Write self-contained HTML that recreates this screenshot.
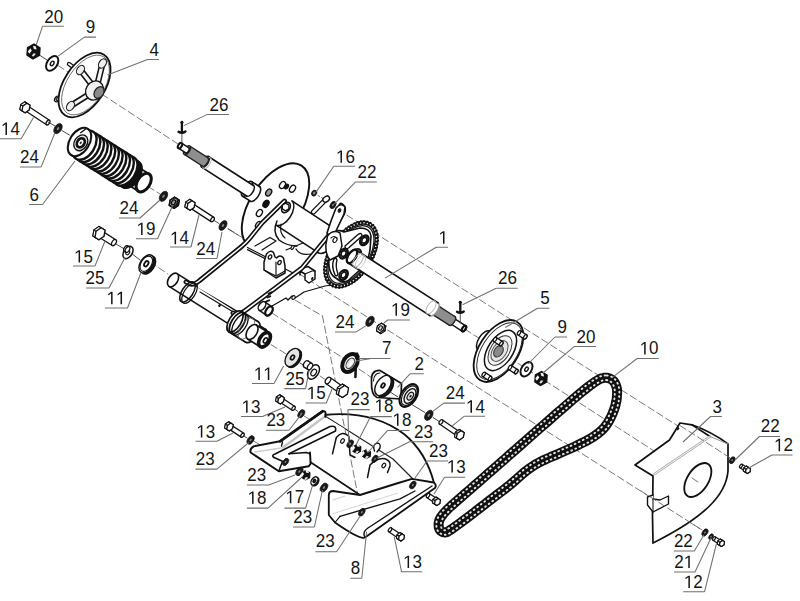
<!DOCTYPE html>
<html><head><meta charset="utf-8"><style>
html,body{margin:0;padding:0;background:#fff;}
svg{display:block;}
text{font-family:"Liberation Sans",sans-serif;font-size:18px;fill:#141414;}
</style></head><body>
<svg width="800" height="601" viewBox="0 0 800 601">
<rect width="800" height="601" fill="#fff"/>
<path d="M58.0 65.5L178.0 144.0" stroke="#6a6a6a" stroke-width="0.90" fill="none" stroke-linecap="round" stroke-dasharray="7 3.5"/>
<path d="M148.0 186.5L160.0 194.0" stroke="#6a6a6a" stroke-width="0.90" fill="none" stroke-linecap="round" stroke-dasharray="7 3.5"/>
<path d="M465.0 329.2L690.0 474.1" stroke="#6a6a6a" stroke-width="0.90" fill="none" stroke-linecap="round" stroke-dasharray="7 3.5"/>
<path d="M338.0 209.5L733.0 461.0" stroke="#6a6a6a" stroke-width="0.90" fill="none" stroke-linecap="round" stroke-dasharray="7 3.5"/>
<path d="M228.0 228.5L702.0 530.0" stroke="#6a6a6a" stroke-width="0.90" fill="none" stroke-linecap="round" stroke-dasharray="7 3.5"/>
<path d="M150.0 262.0L168.0 274.0" stroke="#6a6a6a" stroke-width="0.90" fill="none" stroke-linecap="round" stroke-dasharray="7 3.5"/>
<path d="M271.0 344.6L287.0 354.5" stroke="#6a6a6a" stroke-width="0.90" fill="none" stroke-linecap="round" stroke-dasharray="7 3.5"/>
<path d="M272.0 313.0L344.0 358.5" stroke="#6a6a6a" stroke-width="0.90" fill="none" stroke-linecap="round" stroke-dasharray="7 3.5"/>
<path d="M39.4 55.0L46.9 60.0" stroke="#333" stroke-width="0.90" fill="none" stroke-linecap="round"/>
<path d="M39.2 55.2L33.0 58.6L27.2 54.9L27.8 47.8L34.0 44.4L39.8 48.1Z" stroke="#111" stroke-width="1.84" fill="#111" stroke-linejoin="round" stroke-linecap="round"/>
<path d="M33.0 45.8L35.6 46.3L36.7 49.4L33.9 49.1Z" stroke="none" stroke-width="0.00" fill="#f2f2f2" stroke-linejoin="round" stroke-linecap="round"/>
<path d="M30.3 48.2L31.8 50.4L29.4 53.8L27.8 51.4Z" stroke="none" stroke-width="0.00" fill="#f5f5f5" stroke-linejoin="round" stroke-linecap="round"/>
<path d="M33.5 53.3L35.9 53.7L33.7 56.4L31.7 56.1Z" stroke="none" stroke-width="0.00" fill="#e0e0e0" stroke-linejoin="round" stroke-linecap="round"/>
<ellipse cx="52.2" cy="63.4" rx="5.1" ry="8.2" transform="rotate(32.8 52.2 63.4)" stroke="#111" stroke-width="1.95" fill="#fff"/>
<ellipse cx="52.2" cy="63.4" rx="1.6" ry="2.4" transform="rotate(32.8 52.2 63.4)" stroke="#111" stroke-width="1.38" fill="#fff"/>
<ellipse cx="57.0" cy="99.0" rx="2.2" ry="3.0" transform="rotate(32.8 57.0 99.0)" stroke="#111" stroke-width="1.26" fill="#fff"/>
<path d="M57.5 99.0L63.0 103.0" stroke="#111" stroke-width="4.02" fill="none" stroke-linecap="round"/>
<path d="M57.5 99.0L63.0 103.0" stroke="#fff" stroke-width="1.60" fill="none" stroke-linecap="round"/>
<path d="M69.0 64.0L76.0 69.0" stroke="#111" stroke-width="4.37" fill="none" stroke-linecap="round"/>
<path d="M69.0 64.0L76.0 69.0" stroke="#fff" stroke-width="2.00" fill="none" stroke-linecap="round"/>
<ellipse cx="84.5" cy="85.0" rx="20.5" ry="36.0" transform="rotate(32.8 84.5 85.0)" stroke="#111" stroke-width="1.84" fill="#fff"/>
<ellipse cx="85.5" cy="85.0" rx="18.5" ry="33.5" transform="rotate(32.8 85.5 85.0)" stroke="#444" stroke-width="0.70" fill="none"/>
<path d="M96.0 90.0L80.5 70.0" stroke="#111" stroke-width="6.32" fill="none" stroke-linecap="round"/>
<path d="M96.0 90.0L80.5 70.0" stroke="#f4f4f4" stroke-width="3.20" fill="none" stroke-linecap="round"/>
<ellipse cx="80.5" cy="70.0" rx="3.5" ry="5.0" transform="rotate(32.8 80.5 70.0)" stroke="#222" stroke-width="1.15" fill="#eee"/>
<path d="M96.0 90.0L102.5 63.5" stroke="#111" stroke-width="6.32" fill="none" stroke-linecap="round"/>
<path d="M96.0 90.0L102.5 63.5" stroke="#f4f4f4" stroke-width="3.20" fill="none" stroke-linecap="round"/>
<ellipse cx="102.5" cy="63.5" rx="3.5" ry="5.0" transform="rotate(32.8 102.5 63.5)" stroke="#222" stroke-width="1.15" fill="#eee"/>
<path d="M96.0 90.0L70.5 106.0" stroke="#111" stroke-width="6.32" fill="none" stroke-linecap="round"/>
<path d="M96.0 90.0L70.5 106.0" stroke="#f4f4f4" stroke-width="3.20" fill="none" stroke-linecap="round"/>
<ellipse cx="70.5" cy="106.0" rx="3.5" ry="5.0" transform="rotate(32.8 70.5 106.0)" stroke="#222" stroke-width="1.15" fill="#eee"/>
<ellipse cx="94.5" cy="90.5" rx="8.5" ry="10.0" transform="rotate(32.8 94.5 90.5)" stroke="#111" stroke-width="1.38" fill="#f2f2f2"/>
<ellipse cx="99.0" cy="92.5" rx="4.5" ry="6.2" transform="rotate(32.8 99.0 92.5)" stroke="#222" stroke-width="1.26" fill="#8a8a8a"/>
<ellipse cx="26.0" cy="108.0" rx="1.6" ry="2.7" transform="rotate(-146.6 26.0 108.0)" stroke="#111" stroke-width="1.26" fill="#fff"/>
<path d="M49.5 120.2L27.5 105.7L24.5 110.3L46.5 124.8Z" fill="#fff" stroke="none"/>
<path d="M49.5 120.2L27.5 105.7" stroke="#111" stroke-width="1.26" fill="none" stroke-linecap="round"/>
<path d="M46.5 124.8L24.5 110.3" stroke="#111" stroke-width="1.26" fill="none" stroke-linecap="round"/>
<ellipse cx="48.0" cy="122.5" rx="1.6" ry="2.7" transform="rotate(-146.6 48.0 122.5)" stroke="#111" stroke-width="1.26" fill="#fff"/>
<path d="M27.0 108.7L23.0 111.4L19.9 109.4L20.8 104.6L24.8 101.8L27.9 103.9Z" stroke="#111" stroke-width="1.26" fill="#fff" stroke-linejoin="round" stroke-linecap="round"/>
<path d="M29.1 110.0L25.1 112.8L23.0 111.4L27.0 108.7Z" stroke="#111" stroke-width="1.01" fill="#fff" stroke-linejoin="round" stroke-linecap="round"/>
<path d="M25.1 112.8L22.0 110.8L19.9 109.4L23.0 111.4Z" stroke="#111" stroke-width="1.01" fill="#fff" stroke-linejoin="round" stroke-linecap="round"/>
<path d="M22.0 110.8L22.9 106.0L20.8 104.6L19.9 109.4Z" stroke="#111" stroke-width="1.01" fill="#fff" stroke-linejoin="round" stroke-linecap="round"/>
<path d="M22.9 106.0L26.9 103.2L24.8 101.8L20.8 104.6Z" stroke="#111" stroke-width="1.01" fill="#fff" stroke-linejoin="round" stroke-linecap="round"/>
<path d="M26.9 103.2L30.0 105.2L27.9 103.9L24.8 101.8Z" stroke="#111" stroke-width="1.01" fill="#fff" stroke-linejoin="round" stroke-linecap="round"/>
<path d="M30.0 105.2L29.1 110.0L27.0 108.7L27.9 103.9Z" stroke="#111" stroke-width="1.01" fill="#fff" stroke-linejoin="round" stroke-linecap="round"/>
<path d="M29.1 110.0L25.1 112.8L22.0 110.8L22.9 106.0L26.9 103.2L30.0 105.2Z" stroke="#111" stroke-width="1.26" fill="#fff" stroke-linejoin="round" stroke-linecap="round"/>
<path d="M48.0 122.0L55.0 126.0" stroke="#333" stroke-width="0.90" fill="none" stroke-linecap="round"/>
<ellipse cx="58.0" cy="128.6" rx="3.5" ry="5.6" transform="rotate(32.8 58.0 128.6)" stroke="#111" stroke-width="0.69" fill="#1a1a1a"/>
<ellipse cx="58.0" cy="128.6" rx="1.0" ry="1.7" transform="rotate(32.8 58.0 128.6)" stroke="#111" stroke-width="0.00" fill="#8a8a8a"/>
<path d="M62.0 130.6L69.4 135.0" stroke="#333" stroke-width="0.90" fill="none" stroke-linecap="round"/>
<ellipse cx="143.7" cy="182.6" rx="6.3" ry="10.2" transform="rotate(32.3 143.7 182.6)" stroke="#111" stroke-width="1.61" fill="#fff"/>
<path d="M125.6 183.2L138.3 191.2L149.2 174.0L136.5 166.0Z" fill="#fff" stroke="none"/>
<path d="M125.6 183.2L138.3 191.2" stroke="#111" stroke-width="1.61" fill="none" stroke-linecap="round"/>
<path d="M136.5 166.0L149.2 174.0" stroke="#111" stroke-width="1.61" fill="none" stroke-linecap="round"/>
<ellipse cx="131.1" cy="174.6" rx="6.3" ry="10.2" transform="rotate(32.3 131.1 174.6)" stroke="#111" stroke-width="1.61" fill="#fff"/>
<ellipse cx="143.7" cy="182.6" rx="6.3" ry="10.2" transform="rotate(32.3 143.7 182.6)" stroke="#111" stroke-width="2.99" fill="none"/>
<ellipse cx="130.6" cy="174.3" rx="9.2" ry="14.8" transform="rotate(32.3 130.6 174.3)" stroke="#111" stroke-width="2.53" fill="#fff"/>
<ellipse cx="129.0" cy="173.3" rx="9.2" ry="14.8" transform="rotate(32.3 129.0 173.3)" stroke="#111" stroke-width="2.53" fill="#fff"/>
<ellipse cx="127.4" cy="172.3" rx="9.2" ry="14.8" transform="rotate(32.3 127.4 172.3)" stroke="#111" stroke-width="2.53" fill="#fff"/>
<ellipse cx="125.8" cy="171.3" rx="9.2" ry="14.8" transform="rotate(32.3 125.8 171.3)" stroke="#111" stroke-width="2.53" fill="#fff"/>
<path d="M123.1 186.3 A9.2 14.8 32.3 0 0 138.2 162.3" stroke="#111" stroke-width="3" fill="none"/>
<ellipse cx="125.5" cy="171.1" rx="10.0" ry="16.0" transform="rotate(32.3 125.5 171.1)" stroke="#111" stroke-width="2.42" fill="#fff"/>
<ellipse cx="121.8" cy="168.7" rx="10.0" ry="16.0" transform="rotate(32.3 121.8 168.7)" stroke="#111" stroke-width="2.42" fill="#fff"/>
<ellipse cx="118.0" cy="166.4" rx="10.0" ry="16.0" transform="rotate(32.3 118.0 166.4)" stroke="#111" stroke-width="2.42" fill="#fff"/>
<ellipse cx="114.3" cy="164.0" rx="10.0" ry="16.0" transform="rotate(32.3 114.3 164.0)" stroke="#111" stroke-width="2.42" fill="#fff"/>
<ellipse cx="110.6" cy="161.7" rx="10.0" ry="16.0" transform="rotate(32.3 110.6 161.7)" stroke="#111" stroke-width="2.42" fill="#fff"/>
<ellipse cx="106.9" cy="159.3" rx="10.0" ry="16.0" transform="rotate(32.3 106.9 159.3)" stroke="#111" stroke-width="2.42" fill="#fff"/>
<ellipse cx="103.2" cy="157.0" rx="10.0" ry="16.0" transform="rotate(32.3 103.2 157.0)" stroke="#111" stroke-width="2.42" fill="#fff"/>
<ellipse cx="99.4" cy="154.6" rx="10.0" ry="16.0" transform="rotate(32.3 99.4 154.6)" stroke="#111" stroke-width="2.42" fill="#fff"/>
<ellipse cx="95.7" cy="152.3" rx="10.0" ry="16.0" transform="rotate(32.3 95.7 152.3)" stroke="#111" stroke-width="2.42" fill="#fff"/>
<ellipse cx="92.0" cy="149.9" rx="10.0" ry="16.0" transform="rotate(32.3 92.0 149.9)" stroke="#111" stroke-width="2.42" fill="#fff"/>
<ellipse cx="88.3" cy="147.6" rx="10.0" ry="16.0" transform="rotate(32.3 88.3 147.6)" stroke="#111" stroke-width="2.42" fill="#fff"/>
<ellipse cx="84.6" cy="145.2" rx="10.0" ry="16.0" transform="rotate(32.3 84.6 145.2)" stroke="#111" stroke-width="2.42" fill="#fff"/>
<ellipse cx="79.5" cy="142.0" rx="9.8" ry="15.6" transform="rotate(32.3 79.5 142.0)" stroke="#111" stroke-width="2.07" fill="#fff"/>
<ellipse cx="80.8" cy="142.8" rx="6.4" ry="8.4" transform="rotate(32.3 80.8 142.8)" stroke="#111" stroke-width="1.38" fill="#e6e6e6"/>
<ellipse cx="80.8" cy="142.8" rx="3.6" ry="4.8" transform="rotate(32.3 80.8 142.8)" stroke="#111" stroke-width="2.76" fill="#fff"/>
<ellipse cx="80.8" cy="142.8" rx="1.0" ry="1.4" transform="rotate(32.3 80.8 142.8)" stroke="#111" stroke-width="0.00" fill="#333"/>
<path d="M87.7 129.0L91.1 131.1" stroke="#111" stroke-width="1.61" fill="none" stroke-linecap="round"/>
<path d="M71.3 155.0L74.7 157.2" stroke="#111" stroke-width="1.61" fill="none" stroke-linecap="round"/>
<path d="M86.2 128.5L80.7 132.7" stroke="#111" stroke-width="1.38" fill="none" stroke-linecap="round"/>
<ellipse cx="163.5" cy="196.3" rx="3.5" ry="5.6" transform="rotate(32.8 163.5 196.3)" stroke="#111" stroke-width="0.69" fill="#1a1a1a"/>
<ellipse cx="163.5" cy="196.3" rx="1.0" ry="1.7" transform="rotate(32.8 163.5 196.3)" stroke="#111" stroke-width="0.00" fill="#8a8a8a"/>
<path d="M178.3 205.4L174.1 208.3L170.8 206.2L171.7 201.2L175.9 198.3L179.2 200.4Z" stroke="#111" stroke-width="1.61" fill="#888" stroke-linejoin="round" stroke-linecap="round"/>
<path d="M176.8 204.4L172.6 207.3L174.1 208.3L178.3 205.4Z" stroke="#111" stroke-width="1.29" fill="#888" stroke-linejoin="round" stroke-linecap="round"/>
<path d="M172.6 207.3L169.3 205.2L170.8 206.2L174.1 208.3Z" stroke="#111" stroke-width="1.29" fill="#888" stroke-linejoin="round" stroke-linecap="round"/>
<path d="M169.3 205.2L170.2 200.2L171.7 201.2L170.8 206.2Z" stroke="#111" stroke-width="1.29" fill="#888" stroke-linejoin="round" stroke-linecap="round"/>
<path d="M170.2 200.2L174.4 197.3L175.9 198.3L171.7 201.2Z" stroke="#111" stroke-width="1.29" fill="#888" stroke-linejoin="round" stroke-linecap="round"/>
<path d="M174.4 197.3L177.7 199.4L179.2 200.4L175.9 198.3Z" stroke="#111" stroke-width="1.29" fill="#888" stroke-linejoin="round" stroke-linecap="round"/>
<path d="M177.7 199.4L176.8 204.4L178.3 205.4L179.2 200.4Z" stroke="#111" stroke-width="1.29" fill="#888" stroke-linejoin="round" stroke-linecap="round"/>
<path d="M176.8 204.4L172.6 207.3L169.3 205.2L170.2 200.2L174.4 197.3L177.7 199.4Z" stroke="#111" stroke-width="1.61" fill="#d8d8d8" stroke-linejoin="round" stroke-linecap="round"/>
<ellipse cx="173.5" cy="202.3" rx="1.9" ry="2.7" transform="rotate(32.8 173.5 202.3)" stroke="#111" stroke-width="1.45" fill="#999"/>
<ellipse cx="275.5" cy="206.0" rx="25.5" ry="48.0" transform="rotate(32.8 275.5 206.0)" stroke="#111" stroke-width="1.95" fill="#fff"/>
<ellipse cx="268.7" cy="192.5" rx="2.6" ry="3.8" transform="rotate(32.8 268.7 192.5)" stroke="#111" stroke-width="1.38" fill="#999"/>
<ellipse cx="266.0" cy="203.8" rx="2.6" ry="3.8" transform="rotate(32.8 266.0 203.8)" stroke="#111" stroke-width="1.38" fill="#111"/>
<ellipse cx="259.4" cy="213.0" rx="2.6" ry="3.8" transform="rotate(32.8 259.4 213.0)" stroke="#111" stroke-width="1.38" fill="#fff"/>
<ellipse cx="258.5" cy="225.0" rx="2.6" ry="3.8" transform="rotate(32.8 258.5 225.0)" stroke="#111" stroke-width="1.38" fill="#fff"/>
<ellipse cx="282.5" cy="185.0" rx="2.6" ry="3.8" transform="rotate(32.8 282.5 185.0)" stroke="#111" stroke-width="1.38" fill="#fff"/>
<ellipse cx="292.5" cy="188.7" rx="2.6" ry="3.8" transform="rotate(32.8 292.5 188.7)" stroke="#111" stroke-width="1.38" fill="#fff"/>
<ellipse cx="286.5" cy="186.5" rx="1.8" ry="2.6" transform="rotate(32.8 286.5 186.5)" stroke="#111" stroke-width="1.15" fill="#111"/>
<ellipse cx="262.0" cy="336.0" rx="4.6" ry="7.6" transform="rotate(32.2 262.0 336.0)" stroke="#111" stroke-width="1.61" fill="#fff"/>
<path d="M169.0 286.4L258.0 342.4L266.0 329.6L177.0 273.6Z" fill="#fff" stroke="none"/>
<path d="M169.0 286.4L258.0 342.4" stroke="#111" stroke-width="1.61" fill="none" stroke-linecap="round"/>
<path d="M177.0 273.6L266.0 329.6" stroke="#111" stroke-width="1.61" fill="none" stroke-linecap="round"/>
<ellipse cx="173.0" cy="280.0" rx="4.6" ry="7.6" transform="rotate(32.2 173.0 280.0)" stroke="#111" stroke-width="1.61" fill="#fff"/>
<path d="M197.0 287.0L241.0 249.0L262.0 225.0L288.0 200.0L330.0 236.0L300.0 270.0L240.0 312.0Z" stroke="none" stroke-width="0.00" fill="#fff" stroke-linejoin="round" stroke-linecap="round"/>
<path d="M247.5 247.5L265.0 256.5" stroke="#111" stroke-width="1.26" fill="none" stroke-linecap="round"/>
<path d="M247.5 249.6L296.0 274.5" stroke="#111" stroke-width="1.26" fill="none" stroke-linecap="round"/>
<path d="M228.0 229.0L238.0 235.0" stroke="#555" stroke-width="0.90" fill="none" stroke-linecap="round"/>
<path d="M255 246L270 237.5L276 241L262 250" stroke="#111" stroke-width="1.26" fill="#fff" stroke-linejoin="round" stroke-linecap="round" />
<path d="M200.0 292.0L240.0 316.0" stroke="#111" stroke-width="1.15" fill="none" stroke-linecap="round"/>
<ellipse cx="326.0" cy="240.5" rx="8.0" ry="14.5" transform="rotate(33.2 326.0 240.5)" stroke="#111" stroke-width="1.61" fill="#fff"/>
<path d="M276.1 225.1L318.1 252.6L333.9 228.4L291.9 200.9Z" fill="#fff" stroke="none"/>
<path d="M276.1 225.1L318.1 252.6" stroke="#111" stroke-width="1.61" fill="none" stroke-linecap="round"/>
<path d="M291.9 200.9L333.9 228.4" stroke="#111" stroke-width="1.61" fill="none" stroke-linecap="round"/>
<path d="M291.9 200.9A8.0 14.5 33.2 0 1 276.1 225.1" fill="#fff" stroke="#111" stroke-width="1.4"/>
<path d="M264 270L264 262L266.5 254Q270 249.5 273.5 252.5L275 257L276.5 258Q280 254 283.5 258L285 266L285 273L276 278L264 270Z" stroke="#111" stroke-width="1.49" fill="#fff" stroke-linejoin="round" stroke-linecap="round" />
<path d="M264 270L276 276L276 262" stroke="#111" stroke-width="1.15" fill="none" stroke-linejoin="round" stroke-linecap="round" />
<path d="M276 276L285 271" stroke="#111" stroke-width="1.15" fill="none" stroke-linejoin="round" stroke-linecap="round" />
<ellipse cx="270.0" cy="257.0" rx="1.5" ry="2.2" transform="rotate(32.8 270.0 257.0)" stroke="#111" stroke-width="1.26" fill="#fff"/>
<ellipse cx="279.5" cy="262.5" rx="1.5" ry="2.2" transform="rotate(32.8 279.5 262.5)" stroke="#111" stroke-width="1.26" fill="#fff"/>
<path d="M300 275L300 269L308 266.5L315 271L315 279L309 283L305 280L305 274L300 271" stroke="#111" stroke-width="1.49" fill="#fff" stroke-linejoin="round" stroke-linecap="round" />
<path d="M305 274L312 271L315 271" stroke="#111" stroke-width="1.15" fill="none" stroke-linejoin="round" stroke-linecap="round" />
<ellipse cx="312.3" cy="278.5" rx="1.1" ry="1.6" transform="rotate(32.8 312.3 278.5)" stroke="#111" stroke-width="0.00" fill="#111"/>
<path d="M277 221Q272 232 279 240Q287 246 297 246" stroke="#111" stroke-width="1.49" fill="none" stroke-linejoin="round" stroke-linecap="round" />
<path d="M281 224Q279 233 285 238" stroke="#111" stroke-width="1.15" fill="none" stroke-linejoin="round" stroke-linecap="round" />
<path d="M296 249Q300 256 311 254" stroke="#111" stroke-width="1.26" fill="none" stroke-linejoin="round" stroke-linecap="round" />
<path d="M286 250L303 243" stroke="#111" stroke-width="1.15" fill="none" stroke-linejoin="round" stroke-linecap="round" />
<ellipse cx="292.5" cy="247.5" rx="1.2" ry="2.2" transform="rotate(32.8 292.5 247.5)" stroke="#111" stroke-width="1.15" fill="#fff"/>
<path d="M284.5 201L262 223L250 238Q246 243 241 247L199 281Q192 287 186 282" stroke="#111" stroke-width="4.83" fill="none" stroke-linejoin="round" stroke-linecap="round" />
<path d="M284.5 201L262 223L250 238Q246 243 241 247L199 281Q192 287 186 282" stroke="#fff" stroke-width="1.60" fill="none" stroke-linejoin="round" stroke-linecap="round" />
<ellipse cx="187.5" cy="292.0" rx="5.5" ry="11.5" transform="rotate(32.8 187.5 292.0)" stroke="#111" stroke-width="1.49" fill="none"/>
<ellipse cx="189.5" cy="293.2" rx="5.5" ry="11.5" transform="rotate(32.8 189.5 293.2)" stroke="#111" stroke-width="1.26" fill="none"/>
<path d="M341 205Q345 208 343 213L334 229L302 268L246 310Q238 316 233 313" stroke="#111" stroke-width="4.83" fill="none" stroke-linejoin="round" stroke-linecap="round" />
<path d="M341 205Q345 208 343 213L334 229L302 268L246 310Q238 316 233 313" stroke="#fff" stroke-width="1.60" fill="none" stroke-linejoin="round" stroke-linecap="round" />
<ellipse cx="252.0" cy="332.0" rx="6.0" ry="12.0" transform="rotate(31.7 252.0 332.0)" stroke="#111" stroke-width="1.72" fill="#fff"/>
<path d="M228.7 331.7L245.7 342.2L258.3 321.8L241.3 311.3Z" fill="#fff" stroke="none"/>
<path d="M228.7 331.7L245.7 342.2" stroke="#111" stroke-width="1.72" fill="none" stroke-linecap="round"/>
<path d="M241.3 311.3L258.3 321.8" stroke="#111" stroke-width="1.72" fill="none" stroke-linecap="round"/>
<ellipse cx="235.0" cy="321.5" rx="6.0" ry="12.0" transform="rotate(31.7 235.0 321.5)" stroke="#111" stroke-width="1.72" fill="#fff"/>
<ellipse cx="237.5" cy="323.0" rx="6.0" ry="12.0" transform="rotate(32.8 237.5 323.0)" stroke="#111" stroke-width="1.84" fill="none"/>
<ellipse cx="240.0" cy="324.6" rx="6.0" ry="12.0" transform="rotate(32.8 240.0 324.6)" stroke="#111" stroke-width="1.38" fill="none"/>
<ellipse cx="246.5" cy="328.6" rx="6.0" ry="12.0" transform="rotate(32.8 246.5 328.6)" stroke="#666" stroke-width="0.80" fill="none"/>
<ellipse cx="264.5" cy="339.8" rx="4.9" ry="8.2" transform="rotate(32.0 264.5 339.8)" stroke="#111" stroke-width="1.61" fill="#fff"/>
<path d="M247.7 339.0L260.2 346.8L268.8 332.8L256.3 325.0Z" fill="#fff" stroke="none"/>
<path d="M247.7 339.0L260.2 346.8" stroke="#111" stroke-width="1.61" fill="none" stroke-linecap="round"/>
<path d="M256.3 325.0L268.8 332.8" stroke="#111" stroke-width="1.61" fill="none" stroke-linecap="round"/>
<ellipse cx="252.0" cy="332.0" rx="4.9" ry="8.2" transform="rotate(32.0 252.0 332.0)" stroke="#111" stroke-width="1.61" fill="#fff"/>
<ellipse cx="264.5" cy="339.8" rx="4.8" ry="8.0" transform="rotate(32.8 264.5 339.8)" stroke="#111" stroke-width="3.68" fill="#fff"/>
<ellipse cx="265.5" cy="340.5" rx="1.8" ry="2.8" transform="rotate(32.8 265.5 340.5)" stroke="#111" stroke-width="1.61" fill="#fff"/>
<path d="M268.5 293.5L271.5 292.3" stroke="#111" stroke-width="1.84" fill="none" stroke-linecap="round"/>
<path d="M267.3 297.5L270.3 296.3" stroke="#111" stroke-width="1.84" fill="none" stroke-linecap="round"/>
<path d="M266.1 301.5L269.1 300.3" stroke="#111" stroke-width="1.84" fill="none" stroke-linecap="round"/>
<ellipse cx="219.5" cy="305.5" rx="1.2" ry="1.6" transform="rotate(32.8 219.5 305.5)" stroke="#111" stroke-width="0.00" fill="#111"/>
<ellipse cx="269.0" cy="311.0" rx="3.0" ry="5.0" transform="rotate(35.5 269.0 311.0)" stroke="#111" stroke-width="1.49" fill="#fff"/>
<path d="M259.1 310.1L266.1 315.1L271.9 306.9L264.9 301.9Z" fill="#fff" stroke="none"/>
<path d="M259.1 310.1L266.1 315.1" stroke="#111" stroke-width="1.49" fill="none" stroke-linecap="round"/>
<path d="M264.9 301.9L271.9 306.9" stroke="#111" stroke-width="1.49" fill="none" stroke-linecap="round"/>
<ellipse cx="262.0" cy="306.0" rx="3.0" ry="5.0" transform="rotate(35.5 262.0 306.0)" stroke="#111" stroke-width="1.49" fill="#fff"/>
<ellipse cx="269.0" cy="311.0" rx="3.0" ry="5.0" transform="rotate(32.8 269.0 311.0)" stroke="#111" stroke-width="2.30" fill="#fff"/>
<ellipse cx="286.0" cy="207.5" rx="3.8" ry="5.6" transform="rotate(32.8 286.0 207.5)" stroke="#111" stroke-width="1.61" fill="#fff"/>
<path d="M288.9 208.9L285.6 210.8L282.3 208.9L282.3 205.1L285.6 203.2L288.9 205.1Z" stroke="#111" stroke-width="1.38" fill="#fff" stroke-linejoin="round" stroke-linecap="round"/>
<path d="M272 306L286 298L288 300L292 296L295 298L304 292L325 286L345 283" stroke="#111" stroke-width="1.26" fill="none" stroke-linejoin="round" stroke-linecap="round" />
<ellipse cx="293.5" cy="297.5" rx="1.5" ry="2.0" transform="rotate(32.8 293.5 297.5)" stroke="#111" stroke-width="1.15" fill="#fff"/>
<ellipse cx="351.0" cy="254.5" rx="20.0" ry="35.5" transform="rotate(32.8 351.0 254.5)" stroke="#151515" stroke-width="4.14" fill="#fff"/>
<ellipse cx="351" cy="254.5" rx="20" ry="35.5" transform="rotate(32.8 351 254.5)" fill="none" stroke="#fff" stroke-width="1.5" stroke-dasharray="1.1 2.3"/>
<ellipse cx="351" cy="254.5" rx="21.6" ry="37.3" transform="rotate(32.8 351 254.5)" fill="none" stroke="#111" stroke-width="1.6" stroke-dasharray="1.6 1.8"/>
<ellipse cx="351.0" cy="254.5" rx="17.6" ry="32.3" transform="rotate(32.8 351.0 254.5)" stroke="#111" stroke-width="1.15" fill="none"/>
<path d="M330 236Q336 228 344 232L360 228Q370 228 371 236L370 250Q368 262 362 268L352 277Q346 284 340 281L333 276Q328 270 329 260Z" stroke="#111" stroke-width="1.61" fill="#fff" stroke-linejoin="round" stroke-linecap="round" />
<path d="M345 246L358 234.5Q362 232 362 236L348.5 248Q345 250 345 246Z" stroke="#111" stroke-width="1.38" fill="#fff" stroke-linejoin="round" stroke-linecap="round" />
<path d="M334 259Q331 266 335 275Q337 277 338 274Q335 266 337 260Q336 257 334 259Z" stroke="#111" stroke-width="1.38" fill="#fff" stroke-linejoin="round" stroke-linecap="round" />
<ellipse cx="364.3" cy="240.3" rx="3.6" ry="5.2" transform="rotate(32.8 364.3 240.3)" stroke="#111" stroke-width="2.53" fill="#fff"/>
<path d="M365.0 240.8L362.5 242.5L360.5 241.2L361.0 238.2L363.6 236.4L365.6 237.7Z" stroke="#111" stroke-width="1.38" fill="#ddd" stroke-linejoin="round" stroke-linecap="round"/>
<path d="M366.3 241.6L363.8 243.3L362.5 242.5L365.0 240.8Z" stroke="#111" stroke-width="1.10" fill="#ddd" stroke-linejoin="round" stroke-linecap="round"/>
<path d="M363.8 243.3L361.8 242.1L360.5 241.2L362.5 242.5Z" stroke="#111" stroke-width="1.10" fill="#ddd" stroke-linejoin="round" stroke-linecap="round"/>
<path d="M361.8 242.1L362.3 239.0L361.0 238.2L360.5 241.2Z" stroke="#111" stroke-width="1.10" fill="#ddd" stroke-linejoin="round" stroke-linecap="round"/>
<path d="M362.3 239.0L364.8 237.3L363.6 236.4L361.0 238.2Z" stroke="#111" stroke-width="1.10" fill="#ddd" stroke-linejoin="round" stroke-linecap="round"/>
<path d="M364.8 237.3L366.8 238.5L365.6 237.7L363.6 236.4Z" stroke="#111" stroke-width="1.10" fill="#ddd" stroke-linejoin="round" stroke-linecap="round"/>
<path d="M366.8 238.5L366.3 241.6L365.0 240.8L365.6 237.7Z" stroke="#111" stroke-width="1.10" fill="#ddd" stroke-linejoin="round" stroke-linecap="round"/>
<path d="M366.3 241.6L363.8 243.3L361.8 242.1L362.3 239.0L364.8 237.3L366.8 238.5Z" stroke="#111" stroke-width="1.38" fill="#fff" stroke-linejoin="round" stroke-linecap="round"/>
<ellipse cx="343.6" cy="253.6" rx="3.6" ry="5.2" transform="rotate(32.8 343.6 253.6)" stroke="#111" stroke-width="2.53" fill="#fff"/>
<path d="M344.3 254.1L341.8 255.8L339.8 254.5L340.3 251.5L342.9 249.7L344.9 251.0Z" stroke="#111" stroke-width="1.38" fill="#ddd" stroke-linejoin="round" stroke-linecap="round"/>
<path d="M345.6 254.9L343.1 256.6L341.8 255.8L344.3 254.1Z" stroke="#111" stroke-width="1.10" fill="#ddd" stroke-linejoin="round" stroke-linecap="round"/>
<path d="M343.1 256.6L341.1 255.4L339.8 254.5L341.8 255.8Z" stroke="#111" stroke-width="1.10" fill="#ddd" stroke-linejoin="round" stroke-linecap="round"/>
<path d="M341.1 255.4L341.6 252.3L340.3 251.5L339.8 254.5Z" stroke="#111" stroke-width="1.10" fill="#ddd" stroke-linejoin="round" stroke-linecap="round"/>
<path d="M341.6 252.3L344.1 250.6L342.9 249.7L340.3 251.5Z" stroke="#111" stroke-width="1.10" fill="#ddd" stroke-linejoin="round" stroke-linecap="round"/>
<path d="M344.1 250.6L346.1 251.8L344.9 251.0L342.9 249.7Z" stroke="#111" stroke-width="1.10" fill="#ddd" stroke-linejoin="round" stroke-linecap="round"/>
<path d="M346.1 251.8L345.6 254.9L344.3 254.1L344.9 251.0Z" stroke="#111" stroke-width="1.10" fill="#ddd" stroke-linejoin="round" stroke-linecap="round"/>
<path d="M345.6 254.9L343.1 256.6L341.1 255.4L341.6 252.3L344.1 250.6L346.1 251.8Z" stroke="#111" stroke-width="1.38" fill="#fff" stroke-linejoin="round" stroke-linecap="round"/>
<ellipse cx="343.6" cy="275.0" rx="3.6" ry="5.2" transform="rotate(32.8 343.6 275.0)" stroke="#111" stroke-width="2.53" fill="#fff"/>
<path d="M344.3 275.5L341.8 277.2L339.8 275.9L340.3 272.9L342.9 271.1L344.9 272.4Z" stroke="#111" stroke-width="1.38" fill="#ddd" stroke-linejoin="round" stroke-linecap="round"/>
<path d="M345.6 276.3L343.1 278.0L341.8 277.2L344.3 275.5Z" stroke="#111" stroke-width="1.10" fill="#ddd" stroke-linejoin="round" stroke-linecap="round"/>
<path d="M343.1 278.0L341.1 276.8L339.8 275.9L341.8 277.2Z" stroke="#111" stroke-width="1.10" fill="#ddd" stroke-linejoin="round" stroke-linecap="round"/>
<path d="M341.1 276.8L341.6 273.7L340.3 272.9L339.8 275.9Z" stroke="#111" stroke-width="1.10" fill="#ddd" stroke-linejoin="round" stroke-linecap="round"/>
<path d="M341.6 273.7L344.1 272.0L342.9 271.1L340.3 272.9Z" stroke="#111" stroke-width="1.10" fill="#ddd" stroke-linejoin="round" stroke-linecap="round"/>
<path d="M344.1 272.0L346.1 273.2L344.9 272.4L342.9 271.1Z" stroke="#111" stroke-width="1.10" fill="#ddd" stroke-linejoin="round" stroke-linecap="round"/>
<path d="M346.1 273.2L345.6 276.3L344.3 275.5L344.9 272.4Z" stroke="#111" stroke-width="1.10" fill="#ddd" stroke-linejoin="round" stroke-linecap="round"/>
<path d="M345.6 276.3L343.1 278.0L341.1 276.8L341.6 273.7L344.1 272.0L346.1 273.2Z" stroke="#111" stroke-width="1.38" fill="#fff" stroke-linejoin="round" stroke-linecap="round"/>
<ellipse cx="362.5" cy="263.0" rx="3.6" ry="5.2" transform="rotate(32.8 362.5 263.0)" stroke="#111" stroke-width="2.53" fill="#fff"/>
<path d="M363.2 263.5L360.7 265.2L358.7 263.9L359.2 260.9L361.8 259.1L363.8 260.4Z" stroke="#111" stroke-width="1.38" fill="#ddd" stroke-linejoin="round" stroke-linecap="round"/>
<path d="M364.5 264.3L362.0 266.0L360.7 265.2L363.2 263.5Z" stroke="#111" stroke-width="1.10" fill="#ddd" stroke-linejoin="round" stroke-linecap="round"/>
<path d="M362.0 266.0L360.0 264.8L358.7 263.9L360.7 265.2Z" stroke="#111" stroke-width="1.10" fill="#ddd" stroke-linejoin="round" stroke-linecap="round"/>
<path d="M360.0 264.8L360.5 261.7L359.2 260.9L358.7 263.9Z" stroke="#111" stroke-width="1.10" fill="#ddd" stroke-linejoin="round" stroke-linecap="round"/>
<path d="M360.5 261.7L363.0 260.0L361.8 259.1L359.2 260.9Z" stroke="#111" stroke-width="1.10" fill="#ddd" stroke-linejoin="round" stroke-linecap="round"/>
<path d="M363.0 260.0L365.0 261.2L363.8 260.4L361.8 259.1Z" stroke="#111" stroke-width="1.10" fill="#ddd" stroke-linejoin="round" stroke-linecap="round"/>
<path d="M365.0 261.2L364.5 264.3L363.2 263.5L363.8 260.4Z" stroke="#111" stroke-width="1.10" fill="#ddd" stroke-linejoin="round" stroke-linecap="round"/>
<path d="M364.5 264.3L362.0 266.0L360.0 264.8L360.5 261.7L363.0 260.0L365.0 261.2Z" stroke="#111" stroke-width="1.38" fill="#fff" stroke-linejoin="round" stroke-linecap="round"/>
<ellipse cx="355.5" cy="255.5" rx="4.5" ry="7.5" transform="rotate(32.8 355.5 255.5)" stroke="#111" stroke-width="1.61" fill="#fff"/>
<ellipse cx="356.5" cy="256.2" rx="4.0" ry="7.0" transform="rotate(32.8 356.5 256.2)" stroke="#111" stroke-width="1.15" fill="none"/>
<path d="M336 208Q341 202 345 207L344 214L335 233Q330 238 327 233L331 221Z" stroke="#111" stroke-width="1.61" fill="#fff" stroke-linejoin="round" stroke-linecap="round" />
<ellipse cx="339.5" cy="210.5" rx="1.3" ry="1.8" transform="rotate(32.8 339.5 210.5)" stroke="#111" stroke-width="0.92" fill="#111"/>
<path d="M327.5 236Q333 229 340 233L342 246L338 256L330 260Q325 254 326 244Z" stroke="#111" stroke-width="1.49" fill="#fff" stroke-linejoin="round" stroke-linecap="round" />
<path d="M331 238Q334 235 337 238" stroke="#111" stroke-width="1.15" fill="none" stroke-linejoin="round" stroke-linecap="round" />
<ellipse cx="335.0" cy="240.0" rx="1.8" ry="2.6" transform="rotate(32.8 335.0 240.0)" stroke="#111" stroke-width="1.15" fill="#fff"/>
<ellipse cx="255.0" cy="194.0" rx="3.9" ry="8.6" transform="rotate(32.8 255.0 194.0)" stroke="#111" stroke-width="1.61" fill="#fff"/>
<path d="M242.3 196.0L250.3 201.2L259.7 186.7L251.7 181.6Z" fill="#fff" stroke="none"/>
<path d="M242.3 196.0L250.3 201.2" stroke="#111" stroke-width="1.61" fill="none" stroke-linecap="round"/>
<path d="M251.7 181.6L259.7 186.7" stroke="#111" stroke-width="1.61" fill="none" stroke-linecap="round"/>
<ellipse cx="247.0" cy="188.8" rx="3.9" ry="8.6" transform="rotate(32.8 247.0 188.8)" stroke="#111" stroke-width="1.61" fill="#fff"/>
<ellipse cx="250.0" cy="190.7" rx="3.1" ry="6.3" transform="rotate(32.8 250.0 190.7)" stroke="#111" stroke-width="1.61" fill="#fff"/>
<path d="M201.6 167.1L246.6 196.0L253.4 185.5L208.4 156.5Z" fill="#fff" stroke="none"/>
<path d="M201.6 167.1L246.6 196.0" stroke="#111" stroke-width="1.61" fill="none" stroke-linecap="round"/>
<path d="M208.4 156.5L253.4 185.5" stroke="#111" stroke-width="1.61" fill="none" stroke-linecap="round"/>
<ellipse cx="205.0" cy="161.8" rx="3.1" ry="6.3" transform="rotate(32.8 205.0 161.8)" stroke="#111" stroke-width="1.61" fill="#fff"/>
<ellipse cx="207.0" cy="163.1" rx="2.8" ry="6.3" transform="rotate(32.8 207.0 163.1)" stroke="#bbb" stroke-width="1.00" fill="none"/>
<ellipse cx="205.0" cy="161.8" rx="2.5" ry="5.0" transform="rotate(32.8 205.0 161.8)" stroke="#222" stroke-width="1.38" fill="#8e8e8e"/>
<path d="M184.3 154.4L202.3 166.0L207.7 157.6L189.7 146.0Z" fill="#8e8e8e" stroke="none"/>
<path d="M184.3 154.4L202.3 166.0" stroke="#222" stroke-width="1.38" fill="none" stroke-linecap="round"/>
<path d="M189.7 146.0L207.7 157.6" stroke="#222" stroke-width="1.38" fill="none" stroke-linecap="round"/>
<ellipse cx="187.0" cy="150.2" rx="2.5" ry="5.0" transform="rotate(32.8 187.0 150.2)" stroke="#222" stroke-width="1.38" fill="#8e8e8e"/>
<ellipse cx="187.0" cy="150.2" rx="1.7" ry="3.0" transform="rotate(32.8 187.0 150.2)" stroke="#111" stroke-width="1.38" fill="#fff"/>
<path d="M178.4 148.2L185.4 152.7L188.6 147.7L181.6 143.1Z" fill="#fff" stroke="none"/>
<path d="M178.4 148.2L185.4 152.7" stroke="#111" stroke-width="1.38" fill="none" stroke-linecap="round"/>
<path d="M181.6 143.1L188.6 147.7" stroke="#111" stroke-width="1.38" fill="none" stroke-linecap="round"/>
<ellipse cx="180.0" cy="145.7" rx="1.7" ry="3.0" transform="rotate(32.8 180.0 145.7)" stroke="#111" stroke-width="1.38" fill="#fff"/>
<ellipse cx="180.0" cy="145.7" rx="1.7" ry="3.0" transform="rotate(32.8 180.0 145.7)" stroke="#111" stroke-width="2.07" fill="#fff"/>
<path d="M181.9 134.0L181.9 143.0" stroke="#444" stroke-width="0.90" fill="none" stroke-linecap="round"/>
<path d="M181.9 121.9L181.9 132.5M178.5 131.8Q181.9 134 185.5 131.5" stroke="#111" stroke-width="2.30" fill="none" stroke-linejoin="round" stroke-linecap="round" />
<ellipse cx="181.9" cy="122.5" rx="1.3" ry="1.0" transform="rotate(0.0 181.9 122.5)" stroke="#111" stroke-width="0.92" fill="#111"/>
<ellipse cx="464.0" cy="328.6" rx="1.8" ry="3.2" transform="rotate(32.8 464.0 328.6)" stroke="#111" stroke-width="1.49" fill="#fff"/>
<path d="M450.3 323.5L462.3 331.3L465.7 325.9L453.7 318.1Z" fill="#fff" stroke="none"/>
<path d="M450.3 323.5L462.3 331.3" stroke="#111" stroke-width="1.49" fill="none" stroke-linecap="round"/>
<path d="M453.7 318.1L465.7 325.9" stroke="#111" stroke-width="1.49" fill="none" stroke-linecap="round"/>
<ellipse cx="452.0" cy="320.8" rx="1.8" ry="3.2" transform="rotate(32.8 452.0 320.8)" stroke="#111" stroke-width="1.49" fill="#fff"/>
<ellipse cx="464.0" cy="328.6" rx="1.6" ry="3.2" transform="rotate(32.8 464.0 328.6)" stroke="#111" stroke-width="2.30" fill="none"/>
<ellipse cx="452.0" cy="320.8" rx="2.6" ry="5.2" transform="rotate(32.8 452.0 320.8)" stroke="#222" stroke-width="1.38" fill="#8e8e8e"/>
<path d="M431.2 313.6L449.2 325.2L454.8 316.5L436.8 304.9Z" fill="#8e8e8e" stroke="none"/>
<path d="M431.2 313.6L449.2 325.2" stroke="#222" stroke-width="1.38" fill="none" stroke-linecap="round"/>
<path d="M436.8 304.9L454.8 316.5" stroke="#222" stroke-width="1.38" fill="none" stroke-linecap="round"/>
<ellipse cx="434.0" cy="309.2" rx="2.6" ry="5.2" transform="rotate(32.8 434.0 309.2)" stroke="#222" stroke-width="1.38" fill="#8e8e8e"/>
<ellipse cx="434.0" cy="309.2" rx="3.8" ry="7.6" transform="rotate(32.8 434.0 309.2)" stroke="#9a9a9a" stroke-width="1.50" fill="#fff"/>
<path d="M347.9 262.8L429.9 315.6L438.1 302.9L356.1 250.0Z" fill="#fff" stroke="none"/>
<path d="M347.9 262.8L429.9 315.6" stroke="#111" stroke-width="1.72" fill="none" stroke-linecap="round"/>
<path d="M356.1 250.0L438.1 302.9" stroke="#111" stroke-width="1.72" fill="none" stroke-linecap="round"/>
<ellipse cx="352.0" cy="256.4" rx="3.8" ry="7.6" transform="rotate(32.8 352.0 256.4)" stroke="#111" stroke-width="1.72" fill="#fff"/>
<ellipse cx="352.0" cy="256.4" rx="3.8" ry="7.6" transform="rotate(32.8 352.0 256.4)" stroke="#111" stroke-width="2.30" fill="none"/>
<ellipse cx="431.0" cy="307.3" rx="3.6" ry="7.4" transform="rotate(32.8 431.0 307.3)" stroke="#bbb" stroke-width="1.00" fill="none"/>
<ellipse cx="358.0" cy="260.3" rx="3.8" ry="7.6" transform="rotate(32.8 358.0 260.3)" stroke="#aaa" stroke-width="0.90" fill="none"/>
<ellipse cx="360.5" cy="261.9" rx="3.8" ry="7.6" transform="rotate(32.8 360.5 261.9)" stroke="#c4c4c4" stroke-width="0.80" fill="none"/>
<path d="M460.3 313.0L460.3 323.0" stroke="#444" stroke-width="0.90" fill="none" stroke-linecap="round"/>
<path d="M460.3 302L460.3 312.5M457 311.8Q460.3 314 463.8 311.5" stroke="#111" stroke-width="2.30" fill="none" stroke-linejoin="round" stroke-linecap="round" />
<ellipse cx="460.3" cy="302.5" rx="1.3" ry="1.0" transform="rotate(0.0 460.3 302.5)" stroke="#111" stroke-width="0.92" fill="#111"/>
<path d="M606.7 377.8L607.9 378.0L609.0 378.3L610.1 378.7L611.2 379.2L612.1 379.9L613.0 380.6L613.8 381.4L614.5 382.4L615.1 383.5L615.7 384.6L616.1 385.8L616.5 387.0L616.8 388.2L617.0 389.5L617.1 390.8L617.1 392.1L617.1 393.5L617.0 395.0L616.9 396.5L616.8 398.1L616.6 399.8L616.3 401.4L615.9 403.2L615.5 405.0L615.0 406.9L614.3 408.9L613.6 410.9L612.8 413.0L611.9 415.0L611.0 417.0L610.0 418.9L609.0 420.8L607.9 422.7L606.7 424.5L605.4 426.3L604.0 428.0L602.4 429.6L600.8 431.2L599.0 432.7L597.1 434.1L595.1 435.6L593.0 437.0L590.8 438.4L588.5 439.7L586.1 441.0L583.5 442.3L580.8 443.6L578.0 445.0L574.9 446.5L571.6 448.0L568.2 449.5L564.7 451.0L561.3 452.5L558.0 454.0L554.8 455.4L551.7 456.7L548.6 458.0L545.6 459.3L542.7 460.6L540.0 462.0L537.5 463.4L535.1 464.7L532.9 466.1L530.7 467.6L528.4 469.2L526.0 471.0L523.5 473.0L521.0 475.2L518.4 477.5L515.8 479.9L512.9 482.4L509.9 484.9L506.6 487.5L503.1 490.3L499.4 493.1L495.6 495.9L491.9 498.8L488.2 501.6L484.5 504.4L480.8 507.3L477.0 510.2L473.4 513.1L469.9 515.7L466.6 518.2L463.5 520.5L460.6 522.7L457.8 524.7L455.3 526.5L453.0 528.2L451.0 529.5L449.4 530.5L448.3 531.3L447.3 531.9L446.6 532.2L445.8 532.4L445.0 532.5L444.1 532.4L443.1 532.2L442.2 531.8L441.4 531.3L440.6 530.7L440.0 530.0L439.5 529.2L439.1 528.3L438.8 527.3L438.7 526.2L438.6 525.1L438.6 524.0L438.7 522.9L438.9 521.9L439.2 520.8L439.6 519.6L440.2 518.4L441.0 517.0L442.0 515.6L443.2 514.1L444.5 512.6L446.1 510.9L447.9 509.0L450.0 507.0L452.5 504.7L455.4 502.2L458.5 499.5L461.7 496.7L465.0 493.8L468.3 491.0L471.5 488.2L474.8 485.3L478.1 482.4L481.5 479.5L484.9 476.5L488.2 473.6L491.5 470.7L494.9 467.7L498.3 464.8L501.7 461.8L505.0 458.9L508.2 456.1L511.3 453.3L514.4 450.7L517.4 448.0L520.4 445.4L523.4 442.7L526.5 440.0L529.6 437.3L532.7 434.6L535.7 431.9L538.9 429.1L542.2 426.3L545.7 423.2L549.5 419.9L553.6 416.3L557.8 412.6L562.0 408.9L566.0 405.4L569.7 402.2L573.1 399.3L576.3 396.6L579.3 394.0L582.2 391.7L584.9 389.5L587.4 387.5L589.7 385.7L591.9 384.1L593.8 382.7L595.6 381.5L597.4 380.4L599.0 379.5L600.5 378.8L601.9 378.3L603.2 378.0L604.4 377.8L605.5 377.7Z" fill="none" stroke="#111" stroke-width="10" stroke-linejoin="round"/>
<path d="M606.9 375.5L608.3 375.7L609.7 376.1L611.1 376.6L612.3 377.2L613.5 378.0L614.6 378.9L615.6 380.0L616.4 381.1L617.1 382.4L617.8 383.7L618.3 385.0L618.7 386.4L619.0 387.8L619.2 389.2L619.4 390.7L619.4 392.1L619.4 393.6L619.3 395.1L619.2 396.7L619.0 398.4L618.8 400.1L618.6 401.8L618.2 403.7L617.7 405.6L617.2 407.6L616.5 409.6L615.8 411.7L614.9 413.9L614.0 416.0L613.1 418.0L612.1 420.0L611.0 421.9L609.9 423.9L608.6 425.8L607.2 427.7L605.7 429.5L604.1 431.3L602.3 432.9L600.4 434.5L598.5 436.0L596.4 437.5L594.3 438.9L592.0 440.4L589.6 441.7L587.1 443.0L584.5 444.4L581.8 445.7L579.0 447.1L575.9 448.5L572.6 450.1L569.1 451.6L565.6 453.1L562.2 454.6L558.9 456.1L555.7 457.5L552.6 458.8L549.5 460.1L546.6 461.4L543.7 462.7L541.1 464.0L538.6 465.4L536.3 466.7L534.1 468.1L532.0 469.5L529.8 471.1L527.4 472.8L525.0 474.8L522.5 476.9L520.0 479.2L517.3 481.6L514.4 484.1L511.4 486.7L508.0 489.3L504.5 492.1L500.8 494.9L497.0 497.8L493.3 500.6L489.6 503.4L485.9 506.3L482.2 509.2L478.4 512.1L474.8 514.9L471.2 517.6L468.0 520.0L464.9 522.3L462.0 524.5L459.2 526.6L456.6 528.4L454.3 530.0L452.3 531.4L450.7 532.5L449.5 533.3L448.4 533.9L447.4 534.4L446.2 534.7L445.0 534.8L443.7 534.7L442.4 534.4L441.2 533.9L440.0 533.2L439.0 532.3L438.2 531.4L437.5 530.3L437.0 529.1L436.6 527.8L436.4 526.5L436.3 525.2L436.3 523.9L436.4 522.6L436.6 521.4L437.0 520.1L437.5 518.7L438.2 517.2L439.1 515.7L440.2 514.2L441.4 512.6L442.8 511.0L444.4 509.3L446.3 507.4L448.4 505.3L451.0 503.0L453.8 500.4L457.0 497.7L460.2 494.9L463.5 492.1L466.8 489.3L470.0 486.5L473.3 483.6L476.6 480.7L480.0 477.7L483.3 474.8L486.7 471.9L490.0 468.9L493.4 466.0L496.8 463.0L500.1 460.1L503.4 457.2L506.7 454.4L509.8 451.6L512.9 448.9L515.9 446.3L518.9 443.6L521.9 441.0L525.0 438.3L528.1 435.6L531.1 432.9L534.2 430.2L537.4 427.4L540.7 424.5L544.2 421.5L548.0 418.1L552.1 414.6L556.3 410.8L560.5 407.2L564.5 403.6L568.2 400.5L571.6 397.6L574.8 394.8L577.9 392.3L580.7 389.9L583.4 387.7L586.0 385.7L588.3 383.9L590.5 382.3L592.5 380.8L594.4 379.5L596.2 378.4L598.0 377.4L599.6 376.7L601.2 376.1L602.7 375.7L604.2 375.5L605.5 375.4Z" fill="none" stroke="#e6e6e6" stroke-width="1.9" stroke-dasharray="0.8 3.7" stroke-linecap="round"/>
<path d="M606.5 380.1L607.4 380.2L608.3 380.5L609.2 380.8L610.0 381.2L610.8 381.7L611.4 382.3L612.0 382.9L612.6 383.7L613.1 384.6L613.5 385.5L614.0 386.6L614.3 387.6L614.5 388.6L614.7 389.7L614.8 390.9L614.8 392.1L614.8 393.5L614.7 394.9L614.6 396.4L614.5 397.9L614.3 399.4L614.0 401.0L613.7 402.7L613.3 404.4L612.8 406.2L612.1 408.2L611.4 410.1L610.7 412.1L609.8 414.1L608.9 416.0L608.0 417.8L607.0 419.7L605.9 421.5L604.8 423.2L603.6 424.9L602.3 426.5L600.8 428.0L599.3 429.5L597.6 430.9L595.7 432.3L593.8 433.7L591.7 435.1L589.6 436.4L587.4 437.7L585.0 439.0L582.5 440.2L579.8 441.6L577.0 442.9L574.0 444.4L570.7 445.9L567.3 447.4L563.8 448.9L560.3 450.4L557.1 451.9L553.9 453.3L550.8 454.6L547.7 455.9L544.7 457.2L541.7 458.5L538.9 460.0L536.3 461.4L533.9 462.8L531.6 464.2L529.4 465.7L527.1 467.3L524.6 469.2L522.0 471.2L519.5 473.4L516.9 475.8L514.2 478.2L511.4 480.6L508.4 483.1L505.2 485.7L501.7 488.4L498.0 491.3L494.2 494.1L490.5 497.0L486.8 499.8L483.1 502.6L479.4 505.5L475.6 508.4L472.0 511.2L468.5 513.9L465.2 516.4L462.2 518.6L459.2 520.8L456.5 522.8L453.9 524.7L451.7 526.3L449.7 527.6L448.2 528.6L447.0 529.4L446.3 529.8L445.8 530.1L445.4 530.2L445.0 530.2L444.4 530.2L443.9 530.0L443.3 529.8L442.7 529.4L442.2 529.0L441.8 528.6L441.6 528.2L441.3 527.5L441.1 526.8L440.9 525.9L440.9 525.0L440.9 524.1L441.0 523.2L441.1 522.3L441.3 521.4L441.7 520.5L442.2 519.5L442.9 518.3L443.9 517.0L444.9 515.6L446.2 514.1L447.7 512.5L449.5 510.7L451.6 508.7L454.0 506.4L456.9 503.9L460.0 501.2L463.2 498.4L466.6 495.6L469.8 492.7L473.0 489.9L476.3 487.0L479.7 484.1L483.0 481.2L486.4 478.3L489.7 475.3L493.1 472.4L496.4 469.5L499.8 466.5L503.2 463.6L506.5 460.7L509.7 457.8L512.9 455.1L515.9 452.4L518.9 449.7L521.9 447.1L524.9 444.4L528.0 441.7L531.1 439.0L534.2 436.3L537.3 433.6L540.4 430.9L543.7 428.0L547.2 424.9L551.0 421.6L555.1 418.0L559.3 414.3L563.5 410.6L567.5 407.1L571.2 403.9L574.6 401.1L577.8 398.3L580.8 395.8L583.6 393.4L586.3 391.3L588.8 389.3L591.1 387.5L593.2 386.0L595.1 384.6L596.9 383.4L598.5 382.4L600.0 381.6L601.4 380.9L602.6 380.5L603.6 380.2L604.6 380.1L605.5 380.0Z" fill="none" stroke="#e6e6e6" stroke-width="1.9" stroke-dasharray="0.8 3.7" stroke-linecap="round"/>
<path d="M680 423L692 424.8Q712 432 728 444L728 471C726 495 705 517 653 543L652.5 516L653 476L635 465L669.5 440Z" stroke="#111" stroke-width="1.72" fill="#fff" stroke-linejoin="round" stroke-linecap="round" />
<path d="M692 424.8L710 436.5" stroke="#111" stroke-width="1.61" fill="none" stroke-linejoin="round" stroke-linecap="round" />
<path d="M654.5 474L710 436.5" stroke="#aaa" stroke-width="2.60" fill="none" stroke-linejoin="round" stroke-linecap="round" />
<path d="M654.5 474L710 436.5" stroke="#fff" stroke-width="0.90" fill="none" stroke-linejoin="round" stroke-linecap="round" />
<path d="M710 436.5L728 444" stroke="#999" stroke-width="1.00" fill="none" stroke-linejoin="round" stroke-linecap="round" />
<ellipse cx="677.8" cy="428.6" rx="1.0" ry="1.4" transform="rotate(32.8 677.8 428.6)" stroke="#111" stroke-width="0.69" fill="#111"/>
<ellipse cx="697.8" cy="480.0" rx="10.5" ry="19.0" transform="rotate(32.8 697.8 480.0)" stroke="#111" stroke-width="1.84" fill="#fff"/>
<path d="M692 478L698 482" stroke="#555" stroke-width="0.80" fill="none" stroke-linejoin="round" stroke-linecap="round" />
<path d="M653 495L647.5 497L647.5 505L653 512L668.5 504L668.5 496L660 500L653 499" stroke="#111" stroke-width="1.38" fill="#fff" stroke-linejoin="round" stroke-linecap="round" />
<path d="M653 499L653 512" stroke="#111" stroke-width="1.03" fill="none" stroke-linejoin="round" stroke-linecap="round" />
<path d="M680.0 425.5L731.0 458.5" stroke="#6a6a6a" stroke-width="0.90" fill="none" stroke-linecap="round" stroke-dasharray="7 3.5"/>
<path d="M641.0 491.0L702.0 530.0" stroke="#6a6a6a" stroke-width="0.90" fill="none" stroke-linecap="round" stroke-dasharray="7 3.5"/>
<ellipse cx="492.0" cy="345.6" rx="5.5" ry="11.0" transform="rotate(32.5 492.0 345.6)" stroke="#111" stroke-width="1.49" fill="#fff"/>
<path d="M478.1 349.8L486.1 354.9L497.9 336.3L489.9 331.2Z" fill="#fff" stroke="none"/>
<path d="M478.1 349.8L486.1 354.9" stroke="#111" stroke-width="1.49" fill="none" stroke-linecap="round"/>
<path d="M489.9 331.2L497.9 336.3" stroke="#111" stroke-width="1.49" fill="none" stroke-linecap="round"/>
<ellipse cx="484.0" cy="340.5" rx="5.5" ry="11.0" transform="rotate(32.5 484.0 340.5)" stroke="#111" stroke-width="1.49" fill="#fff"/>
<ellipse cx="498.5" cy="351.0" rx="19.5" ry="34.5" transform="rotate(32.8 498.5 351.0)" stroke="#111" stroke-width="1.84" fill="#fff"/>
<ellipse cx="499.5" cy="351.3" rx="17.5" ry="32.0" transform="rotate(32.8 499.5 351.3)" stroke="#222" stroke-width="0.92" fill="none"/>
<ellipse cx="500.5" cy="350.5" rx="12.5" ry="22.5" transform="rotate(32.8 500.5 350.5)" stroke="#111" stroke-width="1.49" fill="#fff"/>
<ellipse cx="500.0" cy="350.5" rx="9.5" ry="16.5" transform="rotate(32.8 500.0 350.5)" stroke="#333" stroke-width="1.00" fill="#f4f4f4"/>
<ellipse cx="499.5" cy="351.0" rx="7.0" ry="11.5" transform="rotate(32.8 499.5 351.0)" stroke="#555" stroke-width="1.00" fill="#e6e6e6"/>
<ellipse cx="498.5" cy="351.3" rx="4.2" ry="6.2" transform="rotate(32.8 498.5 351.3)" stroke="#333" stroke-width="1.00" fill="#8a8a8a"/>
<ellipse cx="501.3" cy="343.6" rx="1.4" ry="2.4" transform="rotate(33.1 501.3 343.6)" stroke="#111" stroke-width="1.26" fill="#fff"/>
<path d="M493.7 341.5L500.0 345.6L502.6 341.6L496.3 337.5Z" fill="#fff" stroke="none"/>
<path d="M493.7 341.5L500.0 345.6" stroke="#111" stroke-width="1.26" fill="none" stroke-linecap="round"/>
<path d="M496.3 337.5L502.6 341.6" stroke="#111" stroke-width="1.26" fill="none" stroke-linecap="round"/>
<ellipse cx="495.0" cy="339.5" rx="1.4" ry="2.4" transform="rotate(33.1 495.0 339.5)" stroke="#111" stroke-width="1.26" fill="#fff"/>
<ellipse cx="501.3" cy="343.6" rx="1.4" ry="2.4" transform="rotate(32.8 501.3 343.6)" stroke="#111" stroke-width="1.26" fill="#fff"/>
<ellipse cx="525.3" cy="336.9" rx="1.4" ry="2.4" transform="rotate(33.1 525.3 336.9)" stroke="#111" stroke-width="1.26" fill="#fff"/>
<path d="M517.7 334.8L524.0 338.9L526.6 334.9L520.3 330.8Z" fill="#fff" stroke="none"/>
<path d="M517.7 334.8L524.0 338.9" stroke="#111" stroke-width="1.26" fill="none" stroke-linecap="round"/>
<path d="M520.3 330.8L526.6 334.9" stroke="#111" stroke-width="1.26" fill="none" stroke-linecap="round"/>
<ellipse cx="519.0" cy="332.8" rx="1.4" ry="2.4" transform="rotate(33.1 519.0 332.8)" stroke="#111" stroke-width="1.26" fill="#fff"/>
<ellipse cx="525.3" cy="336.9" rx="1.4" ry="2.4" transform="rotate(32.8 525.3 336.9)" stroke="#111" stroke-width="1.26" fill="#fff"/>
<ellipse cx="516.3" cy="371.6" rx="1.4" ry="2.4" transform="rotate(33.1 516.3 371.6)" stroke="#111" stroke-width="1.26" fill="#fff"/>
<path d="M508.7 369.5L515.0 373.6L517.6 369.6L511.3 365.5Z" fill="#fff" stroke="none"/>
<path d="M508.7 369.5L515.0 373.6" stroke="#111" stroke-width="1.26" fill="none" stroke-linecap="round"/>
<path d="M511.3 365.5L517.6 369.6" stroke="#111" stroke-width="1.26" fill="none" stroke-linecap="round"/>
<ellipse cx="510.0" cy="367.5" rx="1.4" ry="2.4" transform="rotate(33.1 510.0 367.5)" stroke="#111" stroke-width="1.26" fill="#fff"/>
<ellipse cx="516.3" cy="371.6" rx="1.4" ry="2.4" transform="rotate(32.8 516.3 371.6)" stroke="#111" stroke-width="1.26" fill="#fff"/>
<ellipse cx="490.0" cy="378.5" rx="1.4" ry="2.4" transform="rotate(33.1 490.0 378.5)" stroke="#111" stroke-width="1.26" fill="#fff"/>
<path d="M482.4 376.4L488.7 380.5L491.3 376.5L485.0 372.4Z" fill="#fff" stroke="none"/>
<path d="M482.4 376.4L488.7 380.5" stroke="#111" stroke-width="1.26" fill="none" stroke-linecap="round"/>
<path d="M485.0 372.4L491.3 376.5" stroke="#111" stroke-width="1.26" fill="none" stroke-linecap="round"/>
<ellipse cx="483.7" cy="374.4" rx="1.4" ry="2.4" transform="rotate(33.1 483.7 374.4)" stroke="#111" stroke-width="1.26" fill="#fff"/>
<ellipse cx="490.0" cy="378.5" rx="1.4" ry="2.4" transform="rotate(32.8 490.0 378.5)" stroke="#111" stroke-width="1.26" fill="#fff"/>
<ellipse cx="526.5" cy="369.2" rx="5.0" ry="8.0" transform="rotate(32.8 526.5 369.2)" stroke="#111" stroke-width="1.95" fill="#fff"/>
<ellipse cx="526.5" cy="369.2" rx="1.5" ry="2.3" transform="rotate(32.8 526.5 369.2)" stroke="#111" stroke-width="1.38" fill="#fff"/>
<path d="M546.4 382.0L540.5 385.2L535.1 381.7L535.6 375.0L541.5 371.8L546.9 375.3Z" stroke="#111" stroke-width="1.84" fill="#111" stroke-linejoin="round" stroke-linecap="round"/>
<path d="M540.5 372.8L543.1 373.3L544.2 376.4L541.4 376.1Z" stroke="none" stroke-width="0.00" fill="#f2f2f2" stroke-linejoin="round" stroke-linecap="round"/>
<path d="M537.8 375.2L539.3 377.4L536.9 380.8L535.3 378.4Z" stroke="none" stroke-width="0.00" fill="#f5f5f5" stroke-linejoin="round" stroke-linecap="round"/>
<path d="M541.0 380.3L543.4 380.7L541.2 383.4L539.2 383.1Z" stroke="none" stroke-width="0.00" fill="#e0e0e0" stroke-linejoin="round" stroke-linecap="round"/>
<path d="M322.5 316.0L361.0 511.0" stroke="#6a6a6a" stroke-width="0.90" fill="none" stroke-linecap="round" stroke-dasharray="7 3.5"/>
<path d="M295 300L322.5 316" stroke="#6a6a6a" stroke-width="0.90" fill="none" stroke-linejoin="round" stroke-linecap="round" stroke-dasharray="7 3.5"/>
<path d="M253.8 441.0L300.0 470.0" stroke="#6a6a6a" stroke-width="0.90" fill="none" stroke-linecap="round" stroke-dasharray="7 3.5"/>
<path d="M304.0 416.0L330.0 432.0" stroke="#6a6a6a" stroke-width="0.90" fill="none" stroke-linecap="round" stroke-dasharray="7 3.5"/>
<path d="M324 415Q372 410 404 434Q426 452 434 483" stroke="#111" stroke-width="1.84" fill="none" stroke-linejoin="round" stroke-linecap="round" />
<path d="M325 416L393 459L412 478" stroke="#222" stroke-width="1.15" fill="none" stroke-linejoin="round" stroke-linecap="round" />
<path d="M253.8 446.3L280 441.3L322.5 411.3Q326 410.5 325.5 414.5L325 417L345 429L340 440L310 447L310.6 463.8L308.8 466.3L278.8 471.3L250.6 452.5Q249.5 448.5 253.8 446.3Z" stroke="none" stroke-width="0.00" fill="#fff" stroke-linejoin="round" stroke-linecap="round" />
<path d="M310 452.5L310.6 463.8L308.8 466.3L278.8 471.3L250.6 452.5Q249.5 448.5 253.8 446.3L280 441.3L322.5 411.3Q326 410.5 325.5 414.5L325 417" stroke="#111" stroke-width="1.95" fill="none" stroke-linejoin="round" stroke-linecap="round" />
<path d="M280 441.3L322.5 411.3" stroke="#111" stroke-width="2.76" fill="none" stroke-linejoin="round" stroke-linecap="round" />
<path d="M281.5 446L282.5 441.8" stroke="#111" stroke-width="1.38" fill="none" stroke-linejoin="round" stroke-linecap="round" />
<path d="M283 447.5L323.5 417.5" stroke="#c4c4c4" stroke-width="2.20" fill="none" stroke-linejoin="round" stroke-linecap="round" />
<path d="M255 452L281 448" stroke="#cdcdcd" stroke-width="1.60" fill="none" stroke-linejoin="round" stroke-linecap="round" />
<path d="M274 457.5Q271 455.5 275 454L330 426.5Q337 425 335.5 431L289 453.8" stroke="#111" stroke-width="1.61" fill="none" stroke-linejoin="round" stroke-linecap="round" />
<path d="M274 457.5L282.5 461.3L278.8 471.3" stroke="#111" stroke-width="1.49" fill="none" stroke-linejoin="round" stroke-linecap="round" />
<path d="M289 453.8L306.3 452.5L310 453.8" stroke="#111" stroke-width="1.61" fill="none" stroke-linejoin="round" stroke-linecap="round" />
<path d="M311 462.5L360 495" stroke="#111" stroke-width="1.61" fill="none" stroke-linejoin="round" stroke-linecap="round" />
<path d="M332.5 453.8L336.3 437.5Q342.5 430 348.8 436.3L350 455L355 457.5" stroke="#111" stroke-width="1.49" fill="#fff" stroke-linejoin="round" stroke-linecap="round" />
<ellipse cx="342.5" cy="441.0" rx="1.6" ry="2.4" transform="rotate(32.8 342.5 441.0)" stroke="#111" stroke-width="1.15" fill="#fff"/>
<path d="M367.5 477.5L370 465Q378 457 385 458.8Q391 461 390 466L387.5 472.5" stroke="#111" stroke-width="1.49" fill="#fff" stroke-linejoin="round" stroke-linecap="round" />
<ellipse cx="383.8" cy="465.5" rx="1.6" ry="2.4" transform="rotate(32.8 383.8 465.5)" stroke="#111" stroke-width="1.15" fill="#fff"/>
<path d="M333 491L360 495L395 484L412 478.8L433.8 482.5Q437 485 435 488L365 537.5Q360 540 335 522.5L328.8 515L328.8 495Q329 491 333 491Z" stroke="#111" stroke-width="1.84" fill="#fff" stroke-linejoin="round" stroke-linecap="round" />
<path d="M340 516.3L400 498.8L415 491" stroke="#111" stroke-width="1.38" fill="none" stroke-linejoin="round" stroke-linecap="round" />
<path d="M335 522.5L340 516.3" stroke="#111" stroke-width="1.15" fill="none" stroke-linejoin="round" stroke-linecap="round" />
<path d="M365 537.5Q362 532 368 528L432 486" stroke="#111" stroke-width="1.38" fill="none" stroke-linejoin="round" stroke-linecap="round" />
<path d="M333 500L345 496" stroke="#cfcfcf" stroke-width="1.20" fill="none" stroke-linejoin="round" stroke-linecap="round" />
<path d="M332 514L398 493" stroke="#d5d5d5" stroke-width="1.00" fill="none" stroke-linejoin="round" stroke-linecap="round" />
<ellipse cx="314.2" cy="193.1" rx="2.8" ry="3.4" transform="rotate(32.8 314.2 193.1)" stroke="#111" stroke-width="0.00" fill="#1c1c1c"/>
<ellipse cx="314.2" cy="193.1" rx="1.2" ry="1.5" transform="rotate(32.8 314.2 193.1)" stroke="#111" stroke-width="0.00" fill="#888"/>
<path d="M318.0 195.5L324.0 199.0" stroke="#6a6a6a" stroke-width="0.90" fill="none" stroke-linecap="round" stroke-dasharray="2 2"/>
<path d="M325.7 199.5L313.4 212.0" stroke="#111" stroke-width="5.29" fill="none" stroke-linecap="round"/>
<path d="M325.7 199.5L313.4 212.0" stroke="#fff" stroke-width="2.60" fill="none" stroke-linecap="round"/>
<ellipse cx="326.2" cy="199.2" rx="2.6" ry="3.6" transform="rotate(57.0 326.2 199.2)" stroke="#111" stroke-width="1.38" fill="#fff"/>
<ellipse cx="333.0" cy="205.0" rx="2.6" ry="4.0" transform="rotate(32.8 333.0 205.0)" stroke="#111" stroke-width="0.69" fill="#1a1a1a"/>
<ellipse cx="333.0" cy="205.0" rx="0.8" ry="1.2" transform="rotate(32.8 333.0 205.0)" stroke="#111" stroke-width="0.00" fill="#8a8a8a"/>
<path d="M212.5 219.5L219.0 223.5" stroke="#333" stroke-width="0.90" fill="none" stroke-linecap="round"/>
<ellipse cx="191.0" cy="205.5" rx="1.5" ry="2.5" transform="rotate(-146.9 191.0 205.5)" stroke="#111" stroke-width="1.26" fill="#fff"/>
<path d="M213.9 217.4L192.4 203.4L189.6 207.6L211.1 221.6Z" fill="#fff" stroke="none"/>
<path d="M213.9 217.4L192.4 203.4" stroke="#111" stroke-width="1.26" fill="none" stroke-linecap="round"/>
<path d="M211.1 221.6L189.6 207.6" stroke="#111" stroke-width="1.26" fill="none" stroke-linecap="round"/>
<ellipse cx="212.5" cy="219.5" rx="1.5" ry="2.5" transform="rotate(-146.9 212.5 219.5)" stroke="#111" stroke-width="1.26" fill="#fff"/>
<path d="M192.0 206.2L188.0 208.9L184.9 206.9L185.8 202.1L189.8 199.3L192.9 201.4Z" stroke="#111" stroke-width="1.26" fill="#fff" stroke-linejoin="round" stroke-linecap="round"/>
<path d="M194.1 207.5L190.1 210.3L188.0 208.9L192.0 206.2Z" stroke="#111" stroke-width="1.01" fill="#fff" stroke-linejoin="round" stroke-linecap="round"/>
<path d="M190.1 210.3L187.0 208.3L184.9 206.9L188.0 208.9Z" stroke="#111" stroke-width="1.01" fill="#fff" stroke-linejoin="round" stroke-linecap="round"/>
<path d="M187.0 208.3L187.9 203.5L185.8 202.1L184.9 206.9Z" stroke="#111" stroke-width="1.01" fill="#fff" stroke-linejoin="round" stroke-linecap="round"/>
<path d="M187.9 203.5L191.9 200.7L189.8 199.3L185.8 202.1Z" stroke="#111" stroke-width="1.01" fill="#fff" stroke-linejoin="round" stroke-linecap="round"/>
<path d="M191.9 200.7L195.0 202.7L192.9 201.4L189.8 199.3Z" stroke="#111" stroke-width="1.01" fill="#fff" stroke-linejoin="round" stroke-linecap="round"/>
<path d="M195.0 202.7L194.1 207.5L192.0 206.2L192.9 201.4Z" stroke="#111" stroke-width="1.01" fill="#fff" stroke-linejoin="round" stroke-linecap="round"/>
<path d="M194.1 207.5L190.1 210.3L187.0 208.3L187.9 203.5L191.9 200.7L195.0 202.7Z" stroke="#111" stroke-width="1.26" fill="#fff" stroke-linejoin="round" stroke-linecap="round"/>
<ellipse cx="223.0" cy="225.5" rx="3.3" ry="5.4" transform="rotate(32.8 223.0 225.5)" stroke="#111" stroke-width="0.69" fill="#1a1a1a"/>
<ellipse cx="223.0" cy="225.5" rx="1.0" ry="1.6" transform="rotate(32.8 223.0 225.5)" stroke="#111" stroke-width="0.00" fill="#8a8a8a"/>
<path d="M114.5 243.2L125.0 249.3" stroke="#333" stroke-width="0.90" fill="none" stroke-linecap="round"/>
<path d="M133.0 254.6L140.0 260.0" stroke="#333" stroke-width="0.90" fill="none" stroke-linecap="round"/>
<ellipse cx="100.0" cy="233.8" rx="2.0" ry="3.4" transform="rotate(-147.8 100.0 233.8)" stroke="#111" stroke-width="1.26" fill="#fff"/>
<path d="M115.8 239.7L101.8 230.9L98.2 236.7L112.2 245.5Z" fill="#fff" stroke="none"/>
<path d="M115.8 239.7L101.8 230.9" stroke="#111" stroke-width="1.26" fill="none" stroke-linecap="round"/>
<path d="M112.2 245.5L98.2 236.7" stroke="#111" stroke-width="1.26" fill="none" stroke-linecap="round"/>
<ellipse cx="114.0" cy="242.6" rx="2.0" ry="3.4" transform="rotate(-147.8 114.0 242.6)" stroke="#111" stroke-width="1.26" fill="#fff"/>
<path d="M101.8 235.0L96.8 238.4L92.9 235.9L94.0 229.9L99.0 226.4L102.9 229.0Z" stroke="#111" stroke-width="1.26" fill="#fff" stroke-linejoin="round" stroke-linecap="round"/>
<path d="M103.9 236.3L98.9 239.8L96.8 238.4L101.8 235.0Z" stroke="#111" stroke-width="1.01" fill="#fff" stroke-linejoin="round" stroke-linecap="round"/>
<path d="M98.9 239.8L95.0 237.3L92.9 235.9L96.8 238.4Z" stroke="#111" stroke-width="1.01" fill="#fff" stroke-linejoin="round" stroke-linecap="round"/>
<path d="M95.0 237.3L96.1 231.3L94.0 229.9L92.9 235.9Z" stroke="#111" stroke-width="1.01" fill="#fff" stroke-linejoin="round" stroke-linecap="round"/>
<path d="M96.1 231.3L101.1 227.8L99.0 226.4L94.0 229.9Z" stroke="#111" stroke-width="1.01" fill="#fff" stroke-linejoin="round" stroke-linecap="round"/>
<path d="M101.1 227.8L105.0 230.3L102.9 229.0L99.0 226.4Z" stroke="#111" stroke-width="1.01" fill="#fff" stroke-linejoin="round" stroke-linecap="round"/>
<path d="M105.0 230.3L103.9 236.3L101.8 235.0L102.9 229.0Z" stroke="#111" stroke-width="1.01" fill="#fff" stroke-linejoin="round" stroke-linecap="round"/>
<path d="M103.9 236.3L98.9 239.8L95.0 237.3L96.1 231.3L101.1 227.8L105.0 230.3Z" stroke="#111" stroke-width="1.26" fill="#fff" stroke-linejoin="round" stroke-linecap="round"/>
<ellipse cx="128.0" cy="252.5" rx="4.2" ry="6.8" transform="rotate(32.8 128.0 252.5)" stroke="#111" stroke-width="1.49" fill="#fff"/>
<ellipse cx="127.8" cy="252.6" rx="1.6" ry="2.4" transform="rotate(32.8 127.8 252.6)" stroke="#111" stroke-width="1.15" fill="#fff"/>
<ellipse cx="126.0" cy="248.6" rx="1.9" ry="3.2" transform="rotate(-149.0 126.0 248.6)" stroke="#111" stroke-width="1.26" fill="#fff"/>
<path d="M129.1 246.8L127.6 245.9L124.4 251.3L125.9 252.2Z" fill="#fff" stroke="none"/>
<path d="M129.1 246.8L127.6 245.9" stroke="#111" stroke-width="1.26" fill="none" stroke-linecap="round"/>
<path d="M125.9 252.2L124.4 251.3" stroke="#111" stroke-width="1.26" fill="none" stroke-linecap="round"/>
<ellipse cx="127.5" cy="249.5" rx="1.9" ry="3.2" transform="rotate(-149.0 127.5 249.5)" stroke="#111" stroke-width="1.26" fill="#fff"/>
<ellipse cx="148.3" cy="265.1" rx="6.0" ry="10.0" transform="rotate(32.8 148.3 265.1)" stroke="#111" stroke-width="1.38" fill="#1a1a1a"/>
<ellipse cx="146.3" cy="263.8" rx="6.0" ry="10.0" transform="rotate(32.8 146.3 263.8)" stroke="#111" stroke-width="1.38" fill="#fff"/>
<ellipse cx="146.3" cy="263.8" rx="1.8" ry="3.0" transform="rotate(32.8 146.3 263.8)" stroke="#111" stroke-width="1.79" fill="#fff"/>
<ellipse cx="146.3" cy="263.8" rx="5.2" ry="8.4" transform="rotate(32.8 146.3 263.8)" stroke="#111" stroke-width="1.15" fill="none"/>
<ellipse cx="294.0" cy="358.5" rx="6.2" ry="10.0" transform="rotate(32.8 294.0 358.5)" stroke="#111" stroke-width="1.38" fill="#1a1a1a"/>
<ellipse cx="292.5" cy="357.5" rx="6.2" ry="10.0" transform="rotate(32.8 292.5 357.5)" stroke="#111" stroke-width="1.38" fill="#e4e4e4"/>
<ellipse cx="292.5" cy="357.5" rx="1.6" ry="2.5" transform="rotate(32.8 292.5 357.5)" stroke="#111" stroke-width="1.79" fill="#fff"/>
<path d="M300.0 363.0L307.0 367.0" stroke="#333" stroke-width="0.90" fill="none" stroke-linecap="round"/>
<ellipse cx="313.5" cy="372.0" rx="5.0" ry="8.0" transform="rotate(32.8 313.5 372.0)" stroke="#111" stroke-width="1.49" fill="#fff"/>
<ellipse cx="313.7" cy="372.5" rx="2.4" ry="3.6" transform="rotate(32.8 313.7 372.5)" stroke="#111" stroke-width="1.26" fill="#fff"/>
<ellipse cx="306.0" cy="364.0" rx="2.2" ry="3.6" transform="rotate(-148.0 306.0 364.0)" stroke="#111" stroke-width="1.26" fill="#fff"/>
<path d="M311.9 363.4L307.9 360.9L304.1 367.1L308.1 369.6Z" fill="#fff" stroke="none"/>
<path d="M311.9 363.4L307.9 360.9" stroke="#111" stroke-width="1.26" fill="none" stroke-linecap="round"/>
<path d="M308.1 369.6L304.1 367.1" stroke="#111" stroke-width="1.26" fill="none" stroke-linecap="round"/>
<ellipse cx="310.0" cy="366.5" rx="2.2" ry="3.6" transform="rotate(-148.0 310.0 366.5)" stroke="#111" stroke-width="1.26" fill="#fff"/>
<path d="M320.0 376.0L326.0 380.0" stroke="#6a6a6a" stroke-width="0.90" fill="none" stroke-linecap="round" stroke-dasharray="7 3.5"/>
<ellipse cx="343.5" cy="391.5" rx="2.2" ry="3.6" transform="rotate(35.4 343.5 391.5)" stroke="#111" stroke-width="1.26" fill="#fff"/>
<path d="M325.9 383.4L341.4 394.4L345.6 388.6L330.1 377.6Z" fill="#fff" stroke="none"/>
<path d="M325.9 383.4L341.4 394.4" stroke="#111" stroke-width="1.26" fill="none" stroke-linecap="round"/>
<path d="M330.1 377.6L345.6 388.6" stroke="#111" stroke-width="1.26" fill="none" stroke-linecap="round"/>
<ellipse cx="328.0" cy="380.5" rx="2.2" ry="3.6" transform="rotate(35.4 328.0 380.5)" stroke="#111" stroke-width="1.26" fill="#fff"/>
<path d="M345.3 392.7L340.3 396.1L336.4 393.6L337.5 387.6L342.5 384.1L346.4 386.7Z" stroke="#111" stroke-width="1.26" fill="#fff" stroke-linejoin="round" stroke-linecap="round"/>
<path d="M347.4 394.0L342.4 397.5L340.3 396.1L345.3 392.7Z" stroke="#111" stroke-width="1.01" fill="#fff" stroke-linejoin="round" stroke-linecap="round"/>
<path d="M342.4 397.5L338.5 395.0L336.4 393.6L340.3 396.1Z" stroke="#111" stroke-width="1.01" fill="#fff" stroke-linejoin="round" stroke-linecap="round"/>
<path d="M338.5 395.0L339.6 389.0L337.5 387.6L336.4 393.6Z" stroke="#111" stroke-width="1.01" fill="#fff" stroke-linejoin="round" stroke-linecap="round"/>
<path d="M339.6 389.0L344.6 385.5L342.5 384.1L337.5 387.6Z" stroke="#111" stroke-width="1.01" fill="#fff" stroke-linejoin="round" stroke-linecap="round"/>
<path d="M344.6 385.5L348.5 388.0L346.4 386.7L342.5 384.1Z" stroke="#111" stroke-width="1.01" fill="#fff" stroke-linejoin="round" stroke-linecap="round"/>
<path d="M348.5 388.0L347.4 394.0L345.3 392.7L346.4 386.7Z" stroke="#111" stroke-width="1.01" fill="#fff" stroke-linejoin="round" stroke-linecap="round"/>
<path d="M347.4 394.0L342.4 397.5L338.5 395.0L339.6 389.0L344.6 385.5L348.5 388.0Z" stroke="#111" stroke-width="1.26" fill="#fff" stroke-linejoin="round" stroke-linecap="round"/>
<ellipse cx="370.0" cy="321.3" rx="3.5" ry="5.6" transform="rotate(32.8 370.0 321.3)" stroke="#111" stroke-width="0.69" fill="#1a1a1a"/>
<ellipse cx="370.0" cy="321.3" rx="1.0" ry="1.7" transform="rotate(32.8 370.0 321.3)" stroke="#111" stroke-width="0.00" fill="#8a8a8a"/>
<path d="M384.9 330.8L380.9 333.6L377.7 331.6L378.6 326.8L382.6 324.0L385.8 326.0Z" stroke="#111" stroke-width="1.26" fill="#fff" stroke-linejoin="round" stroke-linecap="round"/>
<path d="M383.6 330.0L379.6 332.8L380.9 333.6L384.9 330.8Z" stroke="#111" stroke-width="1.01" fill="#fff" stroke-linejoin="round" stroke-linecap="round"/>
<path d="M379.6 332.8L376.5 330.8L377.7 331.6L380.9 333.6Z" stroke="#111" stroke-width="1.01" fill="#fff" stroke-linejoin="round" stroke-linecap="round"/>
<path d="M376.5 330.8L377.4 326.0L378.6 326.8L377.7 331.6Z" stroke="#111" stroke-width="1.01" fill="#fff" stroke-linejoin="round" stroke-linecap="round"/>
<path d="M377.4 326.0L381.4 323.2L382.6 324.0L378.6 326.8Z" stroke="#111" stroke-width="1.01" fill="#fff" stroke-linejoin="round" stroke-linecap="round"/>
<path d="M381.4 323.2L384.5 325.2L385.8 326.0L382.6 324.0Z" stroke="#111" stroke-width="1.01" fill="#fff" stroke-linejoin="round" stroke-linecap="round"/>
<path d="M384.5 325.2L383.6 330.0L384.9 330.8L385.8 326.0Z" stroke="#111" stroke-width="1.01" fill="#fff" stroke-linejoin="round" stroke-linecap="round"/>
<path d="M383.6 330.0L379.6 332.8L376.5 330.8L377.4 326.0L381.4 323.2L384.5 325.2Z" stroke="#111" stroke-width="1.26" fill="#fff" stroke-linejoin="round" stroke-linecap="round"/>
<ellipse cx="380.5" cy="328.0" rx="1.7" ry="2.3" transform="rotate(32.8 380.5 328.0)" stroke="#111" stroke-width="1.14" fill="#ddd"/>
<path d="M412.5 405.0L425.0 412.5" stroke="#333" stroke-width="0.90" fill="none" stroke-linecap="round"/>
<path d="M433.0 417.5L440.0 422.0" stroke="#333" stroke-width="0.90" fill="none" stroke-linecap="round"/>
<ellipse cx="428.8" cy="415.3" rx="3.5" ry="5.6" transform="rotate(32.8 428.8 415.3)" stroke="#111" stroke-width="0.69" fill="#1a1a1a"/>
<ellipse cx="428.8" cy="415.3" rx="1.0" ry="1.7" transform="rotate(32.8 428.8 415.3)" stroke="#111" stroke-width="0.00" fill="#8a8a8a"/>
<ellipse cx="457.0" cy="433.0" rx="1.6" ry="2.6" transform="rotate(34.5 457.0 433.0)" stroke="#111" stroke-width="1.26" fill="#fff"/>
<path d="M439.5 424.1L455.5 435.1L458.5 430.9L442.5 419.9Z" fill="#fff" stroke="none"/>
<path d="M439.5 424.1L455.5 435.1" stroke="#111" stroke-width="1.26" fill="none" stroke-linecap="round"/>
<path d="M442.5 419.9L458.5 430.9" stroke="#111" stroke-width="1.26" fill="none" stroke-linecap="round"/>
<ellipse cx="441.0" cy="422.0" rx="1.6" ry="2.6" transform="rotate(34.5 441.0 422.0)" stroke="#111" stroke-width="1.26" fill="#fff"/>
<path d="M461.5 436.1L457.6 438.7L454.6 436.8L455.4 432.2L459.3 429.5L462.3 431.4Z" stroke="#111" stroke-width="1.26" fill="#fff" stroke-linejoin="round" stroke-linecap="round"/>
<path d="M463.3 437.3L459.5 439.9L457.6 438.7L461.5 436.1Z" stroke="#111" stroke-width="1.01" fill="#fff" stroke-linejoin="round" stroke-linecap="round"/>
<path d="M459.5 439.9L456.4 438.0L454.6 436.8L457.6 438.7Z" stroke="#111" stroke-width="1.01" fill="#fff" stroke-linejoin="round" stroke-linecap="round"/>
<path d="M456.4 438.0L457.3 433.3L455.4 432.2L454.6 436.8Z" stroke="#111" stroke-width="1.01" fill="#fff" stroke-linejoin="round" stroke-linecap="round"/>
<path d="M457.3 433.3L461.1 430.7L459.3 429.5L455.4 432.2Z" stroke="#111" stroke-width="1.01" fill="#fff" stroke-linejoin="round" stroke-linecap="round"/>
<path d="M461.1 430.7L464.2 432.6L462.3 431.4L459.3 429.5Z" stroke="#111" stroke-width="1.01" fill="#fff" stroke-linejoin="round" stroke-linecap="round"/>
<path d="M464.2 432.6L463.3 437.3L461.5 436.1L462.3 431.4Z" stroke="#111" stroke-width="1.01" fill="#fff" stroke-linejoin="round" stroke-linecap="round"/>
<path d="M463.3 437.3L459.5 439.9L456.4 438.0L457.3 433.3L461.1 430.7L464.2 432.6Z" stroke="#111" stroke-width="1.26" fill="#fff" stroke-linejoin="round" stroke-linecap="round"/>
<path d="M294.0 408.6L298.0 411.5" stroke="#333" stroke-width="0.90" fill="none" stroke-linecap="round"/>
<ellipse cx="281.0" cy="400.0" rx="1.4" ry="2.3" transform="rotate(-146.4 281.0 400.0)" stroke="#111" stroke-width="1.26" fill="#fff"/>
<path d="M294.8 406.4L282.3 398.1L279.7 401.9L292.2 410.2Z" fill="#fff" stroke="none"/>
<path d="M294.8 406.4L282.3 398.1" stroke="#111" stroke-width="1.26" fill="none" stroke-linecap="round"/>
<path d="M292.2 410.2L279.7 401.9" stroke="#111" stroke-width="1.26" fill="none" stroke-linecap="round"/>
<ellipse cx="293.5" cy="408.3" rx="1.4" ry="2.3" transform="rotate(-146.4 293.5 408.3)" stroke="#111" stroke-width="1.26" fill="#fff"/>
<path d="M281.4 400.3L278.2 402.5L275.7 400.9L276.4 397.0L279.6 394.8L282.1 396.4Z" stroke="#111" stroke-width="1.26" fill="#fff" stroke-linejoin="round" stroke-linecap="round"/>
<path d="M283.5 401.6L280.3 403.9L278.2 402.5L281.4 400.3Z" stroke="#111" stroke-width="1.01" fill="#fff" stroke-linejoin="round" stroke-linecap="round"/>
<path d="M280.3 403.9L277.8 402.2L275.7 400.9L278.2 402.5Z" stroke="#111" stroke-width="1.01" fill="#fff" stroke-linejoin="round" stroke-linecap="round"/>
<path d="M277.8 402.2L278.5 398.4L276.4 397.0L275.7 400.9Z" stroke="#111" stroke-width="1.01" fill="#fff" stroke-linejoin="round" stroke-linecap="round"/>
<path d="M278.5 398.4L281.7 396.1L279.6 394.8L276.4 397.0Z" stroke="#111" stroke-width="1.01" fill="#fff" stroke-linejoin="round" stroke-linecap="round"/>
<path d="M281.7 396.1L284.2 397.8L282.1 396.4L279.6 394.8Z" stroke="#111" stroke-width="1.01" fill="#fff" stroke-linejoin="round" stroke-linecap="round"/>
<path d="M284.2 397.8L283.5 401.6L281.4 400.3L282.1 396.4Z" stroke="#111" stroke-width="1.01" fill="#fff" stroke-linejoin="round" stroke-linecap="round"/>
<path d="M283.5 401.6L280.3 403.9L277.8 402.2L278.5 398.4L281.7 396.1L284.2 397.8Z" stroke="#111" stroke-width="1.26" fill="#fff" stroke-linejoin="round" stroke-linecap="round"/>
<ellipse cx="301.3" cy="413.8" rx="2.8" ry="4.5" transform="rotate(32.8 301.3 413.8)" stroke="#111" stroke-width="0.69" fill="#1a1a1a"/>
<ellipse cx="301.3" cy="413.8" rx="0.8" ry="1.3" transform="rotate(32.8 301.3 413.8)" stroke="#111" stroke-width="0.00" fill="#8a8a8a"/>
<path d="M242.5 435.0L247.0 438.0" stroke="#333" stroke-width="0.90" fill="none" stroke-linecap="round"/>
<ellipse cx="230.0" cy="427.0" rx="1.4" ry="2.3" transform="rotate(-146.7 230.0 427.0)" stroke="#111" stroke-width="1.26" fill="#fff"/>
<path d="M243.8 433.3L231.3 425.1L228.7 428.9L241.2 437.1Z" fill="#fff" stroke="none"/>
<path d="M243.8 433.3L231.3 425.1" stroke="#111" stroke-width="1.26" fill="none" stroke-linecap="round"/>
<path d="M241.2 437.1L228.7 428.9" stroke="#111" stroke-width="1.26" fill="none" stroke-linecap="round"/>
<ellipse cx="242.5" cy="435.2" rx="1.4" ry="2.3" transform="rotate(-146.7 242.5 435.2)" stroke="#111" stroke-width="1.26" fill="#fff"/>
<path d="M230.4 427.3L227.2 429.5L224.7 427.9L225.4 424.0L228.6 421.8L231.1 423.4Z" stroke="#111" stroke-width="1.26" fill="#fff" stroke-linejoin="round" stroke-linecap="round"/>
<path d="M232.5 428.6L229.3 430.9L227.2 429.5L230.4 427.3Z" stroke="#111" stroke-width="1.01" fill="#fff" stroke-linejoin="round" stroke-linecap="round"/>
<path d="M229.3 430.9L226.8 429.2L224.7 427.9L227.2 429.5Z" stroke="#111" stroke-width="1.01" fill="#fff" stroke-linejoin="round" stroke-linecap="round"/>
<path d="M226.8 429.2L227.5 425.4L225.4 424.0L224.7 427.9Z" stroke="#111" stroke-width="1.01" fill="#fff" stroke-linejoin="round" stroke-linecap="round"/>
<path d="M227.5 425.4L230.7 423.1L228.6 421.8L225.4 424.0Z" stroke="#111" stroke-width="1.01" fill="#fff" stroke-linejoin="round" stroke-linecap="round"/>
<path d="M230.7 423.1L233.2 424.8L231.1 423.4L228.6 421.8Z" stroke="#111" stroke-width="1.01" fill="#fff" stroke-linejoin="round" stroke-linecap="round"/>
<path d="M233.2 424.8L232.5 428.6L230.4 427.3L231.1 423.4Z" stroke="#111" stroke-width="1.01" fill="#fff" stroke-linejoin="round" stroke-linecap="round"/>
<path d="M232.5 428.6L229.3 430.9L226.8 429.2L227.5 425.4L230.7 423.1L233.2 424.8Z" stroke="#111" stroke-width="1.26" fill="#fff" stroke-linejoin="round" stroke-linecap="round"/>
<ellipse cx="250.6" cy="440.0" rx="2.9" ry="4.7" transform="rotate(32.8 250.6 440.0)" stroke="#111" stroke-width="0.69" fill="#1a1a1a"/>
<ellipse cx="250.6" cy="440.0" rx="0.9" ry="1.4" transform="rotate(32.8 250.6 440.0)" stroke="#111" stroke-width="0.00" fill="#8a8a8a"/>
<ellipse cx="285.6" cy="461.9" rx="2.5" ry="4.0" transform="rotate(32.8 285.6 461.9)" stroke="#111" stroke-width="0.69" fill="#1a1a1a"/>
<ellipse cx="285.6" cy="461.9" rx="0.7" ry="1.2" transform="rotate(32.8 285.6 461.9)" stroke="#111" stroke-width="0.00" fill="#8a8a8a"/>
<ellipse cx="299.4" cy="471.5" rx="2.9" ry="4.7" transform="rotate(32.8 299.4 471.5)" stroke="#111" stroke-width="0.69" fill="#1a1a1a"/>
<ellipse cx="299.4" cy="471.5" rx="0.9" ry="1.4" transform="rotate(32.8 299.4 471.5)" stroke="#111" stroke-width="0.00" fill="#8a8a8a"/>
<path d="M309.3 477.5L305.5 479.5L302.0 477.3L302.3 472.9L306.1 470.9L309.6 473.1Z" stroke="#111" stroke-width="1.84" fill="#111" stroke-linejoin="round" stroke-linecap="round"/>
<path d="M305.3 469.5L307.9 470.0L309.0 473.1L306.2 472.8Z" stroke="none" stroke-width="0.00" fill="#f2f2f2" stroke-linejoin="round" stroke-linecap="round"/>
<path d="M302.6 471.9L304.1 474.1L301.7 477.5L300.1 475.1Z" stroke="none" stroke-width="0.00" fill="#f5f5f5" stroke-linejoin="round" stroke-linecap="round"/>
<path d="M305.8 477.0L308.2 477.4L306.0 480.1L304.0 479.8Z" stroke="none" stroke-width="0.00" fill="#e0e0e0" stroke-linejoin="round" stroke-linecap="round"/>
<ellipse cx="315.4" cy="481.7" rx="2.9" ry="4.6" transform="rotate(32.8 315.4 481.7)" stroke="#111" stroke-width="1.38" fill="#1a1a1a"/>
<ellipse cx="314.4" cy="481.0" rx="2.9" ry="4.6" transform="rotate(32.8 314.4 481.0)" stroke="#111" stroke-width="1.38" fill="#fff"/>
<ellipse cx="314.4" cy="481.0" rx="1.0" ry="1.6" transform="rotate(32.8 314.4 481.0)" stroke="#111" stroke-width="1.79" fill="#fff"/>
<ellipse cx="324.0" cy="487.5" rx="3.1" ry="4.9" transform="rotate(32.8 324.0 487.5)" stroke="#111" stroke-width="0.69" fill="#1a1a1a"/>
<ellipse cx="324.0" cy="487.5" rx="0.9" ry="1.5" transform="rotate(32.8 324.0 487.5)" stroke="#111" stroke-width="0.00" fill="#8a8a8a"/>
<ellipse cx="350.2" cy="443.8" rx="2.6" ry="4.3" transform="rotate(32.8 350.2 443.8)" stroke="#111" stroke-width="0.69" fill="#1a1a1a"/>
<ellipse cx="350.2" cy="443.8" rx="0.8" ry="1.3" transform="rotate(32.8 350.2 443.8)" stroke="#111" stroke-width="0.00" fill="#8a8a8a"/>
<path d="M360.2 451.1L356.5 453.1L353.1 450.9L353.4 446.7L357.1 444.7L360.5 446.9Z" stroke="#111" stroke-width="1.84" fill="#111" stroke-linejoin="round" stroke-linecap="round"/>
<path d="M356.3 443.2L358.9 443.7L360.0 446.8L357.2 446.5Z" stroke="none" stroke-width="0.00" fill="#f2f2f2" stroke-linejoin="round" stroke-linecap="round"/>
<path d="M353.6 445.6L355.1 447.8L352.7 451.2L351.1 448.8Z" stroke="none" stroke-width="0.00" fill="#f5f5f5" stroke-linejoin="round" stroke-linecap="round"/>
<path d="M356.8 450.7L359.2 451.1L357.0 453.8L355.0 453.5Z" stroke="none" stroke-width="0.00" fill="#e0e0e0" stroke-linejoin="round" stroke-linecap="round"/>
<path d="M369.9 456.2L366.2 458.2L362.8 456.0L363.1 451.8L366.8 449.8L370.2 452.0Z" stroke="#111" stroke-width="1.84" fill="#111" stroke-linejoin="round" stroke-linecap="round"/>
<path d="M366.0 448.3L368.6 448.8L369.7 451.9L366.9 451.6Z" stroke="none" stroke-width="0.00" fill="#f2f2f2" stroke-linejoin="round" stroke-linecap="round"/>
<path d="M363.3 450.7L364.8 452.9L362.4 456.3L360.8 453.9Z" stroke="none" stroke-width="0.00" fill="#f5f5f5" stroke-linejoin="round" stroke-linecap="round"/>
<path d="M366.5 455.8L368.9 456.2L366.7 458.9L364.7 458.6Z" stroke="none" stroke-width="0.00" fill="#e0e0e0" stroke-linejoin="round" stroke-linecap="round"/>
<ellipse cx="375.0" cy="458.8" rx="2.5" ry="4.0" transform="rotate(32.8 375.0 458.8)" stroke="#111" stroke-width="0.69" fill="#1a1a1a"/>
<ellipse cx="375.0" cy="458.8" rx="0.7" ry="1.2" transform="rotate(32.8 375.0 458.8)" stroke="#111" stroke-width="0.00" fill="#8a8a8a"/>
<path d="M374.5 451Q372 445 377 443Q381 443 380 448L377 452" stroke="#111" stroke-width="1.38" fill="#fff" stroke-linejoin="round" stroke-linecap="round" />
<ellipse cx="361.8" cy="512.2" rx="2.6" ry="4.3" transform="rotate(32.8 361.8 512.2)" stroke="#111" stroke-width="0.69" fill="#1a1a1a"/>
<ellipse cx="361.8" cy="512.2" rx="0.8" ry="1.3" transform="rotate(32.8 361.8 512.2)" stroke="#111" stroke-width="0.00" fill="#8a8a8a"/>
<ellipse cx="412.8" cy="485.0" rx="2.6" ry="4.3" transform="rotate(32.8 412.8 485.0)" stroke="#111" stroke-width="0.69" fill="#1a1a1a"/>
<ellipse cx="412.8" cy="485.0" rx="0.8" ry="1.3" transform="rotate(32.8 412.8 485.0)" stroke="#111" stroke-width="0.00" fill="#8a8a8a"/>
<ellipse cx="401.5" cy="537.5" rx="1.4" ry="2.3" transform="rotate(33.8 401.5 537.5)" stroke="#111" stroke-width="1.26" fill="#fff"/>
<path d="M388.7 531.7L400.2 539.4L402.8 535.6L391.3 527.9Z" fill="#fff" stroke="none"/>
<path d="M388.7 531.7L400.2 539.4" stroke="#111" stroke-width="1.26" fill="none" stroke-linecap="round"/>
<path d="M391.3 527.9L402.8 535.6" stroke="#111" stroke-width="1.26" fill="none" stroke-linecap="round"/>
<ellipse cx="390.0" cy="529.8" rx="1.4" ry="2.3" transform="rotate(33.8 390.0 529.8)" stroke="#111" stroke-width="1.26" fill="#fff"/>
<path d="M401.7 537.6L398.8 539.7L396.5 538.2L397.1 534.7L400.0 532.6L402.3 534.1Z" stroke="#111" stroke-width="1.26" fill="#fff" stroke-linejoin="round" stroke-linecap="round"/>
<path d="M403.8 539.0L400.9 541.0L398.8 539.7L401.7 537.6Z" stroke="#111" stroke-width="1.01" fill="#fff" stroke-linejoin="round" stroke-linecap="round"/>
<path d="M400.9 541.0L398.6 539.5L396.5 538.2L398.8 539.7Z" stroke="#111" stroke-width="1.01" fill="#fff" stroke-linejoin="round" stroke-linecap="round"/>
<path d="M398.6 539.5L399.2 536.0L397.1 534.7L396.5 538.2Z" stroke="#111" stroke-width="1.01" fill="#fff" stroke-linejoin="round" stroke-linecap="round"/>
<path d="M399.2 536.0L402.1 534.0L400.0 532.6L397.1 534.7Z" stroke="#111" stroke-width="1.01" fill="#fff" stroke-linejoin="round" stroke-linecap="round"/>
<path d="M402.1 534.0L404.4 535.5L402.3 534.1L400.0 532.6Z" stroke="#111" stroke-width="1.01" fill="#fff" stroke-linejoin="round" stroke-linecap="round"/>
<path d="M404.4 535.5L403.8 539.0L401.7 537.6L402.3 534.1Z" stroke="#111" stroke-width="1.01" fill="#fff" stroke-linejoin="round" stroke-linecap="round"/>
<path d="M403.8 539.0L400.9 541.0L398.6 539.5L399.2 536.0L402.1 534.0L404.4 535.5Z" stroke="#111" stroke-width="1.26" fill="#fff" stroke-linejoin="round" stroke-linecap="round"/>
<ellipse cx="437.5" cy="502.0" rx="1.4" ry="2.3" transform="rotate(34.4 437.5 502.0)" stroke="#111" stroke-width="1.26" fill="#fff"/>
<path d="M426.7 497.4L436.2 503.9L438.8 500.1L429.3 493.6Z" fill="#fff" stroke="none"/>
<path d="M426.7 497.4L436.2 503.9" stroke="#111" stroke-width="1.26" fill="none" stroke-linecap="round"/>
<path d="M429.3 493.6L438.8 500.1" stroke="#111" stroke-width="1.26" fill="none" stroke-linecap="round"/>
<ellipse cx="428.0" cy="495.5" rx="1.4" ry="2.3" transform="rotate(34.4 428.0 495.5)" stroke="#111" stroke-width="1.26" fill="#fff"/>
<path d="M437.7 502.1L434.8 504.2L432.5 502.7L433.1 499.2L436.0 497.1L438.3 498.6Z" stroke="#111" stroke-width="1.26" fill="#fff" stroke-linejoin="round" stroke-linecap="round"/>
<path d="M439.8 503.5L436.9 505.5L434.8 504.2L437.7 502.1Z" stroke="#111" stroke-width="1.01" fill="#fff" stroke-linejoin="round" stroke-linecap="round"/>
<path d="M436.9 505.5L434.6 504.0L432.5 502.7L434.8 504.2Z" stroke="#111" stroke-width="1.01" fill="#fff" stroke-linejoin="round" stroke-linecap="round"/>
<path d="M434.6 504.0L435.2 500.5L433.1 499.2L432.5 502.7Z" stroke="#111" stroke-width="1.01" fill="#fff" stroke-linejoin="round" stroke-linecap="round"/>
<path d="M435.2 500.5L438.1 498.5L436.0 497.1L433.1 499.2Z" stroke="#111" stroke-width="1.01" fill="#fff" stroke-linejoin="round" stroke-linecap="round"/>
<path d="M438.1 498.5L440.4 500.0L438.3 498.6L436.0 497.1Z" stroke="#111" stroke-width="1.01" fill="#fff" stroke-linejoin="round" stroke-linecap="round"/>
<path d="M440.4 500.0L439.8 503.5L437.7 502.1L438.3 498.6Z" stroke="#111" stroke-width="1.01" fill="#fff" stroke-linejoin="round" stroke-linecap="round"/>
<path d="M439.8 503.5L436.9 505.5L434.6 504.0L435.2 500.5L438.1 498.5L440.4 500.0Z" stroke="#111" stroke-width="1.26" fill="#fff" stroke-linejoin="round" stroke-linecap="round"/>
<ellipse cx="732.2" cy="460.2" rx="2.4" ry="3.8" transform="rotate(32.8 732.2 460.2)" stroke="#111" stroke-width="0.69" fill="#1a1a1a"/>
<ellipse cx="732.2" cy="460.2" rx="0.7" ry="1.1" transform="rotate(32.8 732.2 460.2)" stroke="#111" stroke-width="0.00" fill="#8a8a8a"/>
<ellipse cx="748.0" cy="470.5" rx="1.2" ry="2.0" transform="rotate(32.7 748.0 470.5)" stroke="#111" stroke-width="1.26" fill="#fff"/>
<path d="M739.9 467.7L746.9 472.2L749.1 468.8L742.1 464.3Z" fill="#fff" stroke="none"/>
<path d="M739.9 467.7L746.9 472.2" stroke="#111" stroke-width="1.26" fill="none" stroke-linecap="round"/>
<path d="M742.1 464.3L749.1 468.8" stroke="#111" stroke-width="1.26" fill="none" stroke-linecap="round"/>
<ellipse cx="741.0" cy="466.0" rx="1.2" ry="2.0" transform="rotate(32.7 741.0 466.0)" stroke="#111" stroke-width="1.26" fill="#fff"/>
<path d="M747.9 470.4L745.3 472.2L743.4 470.9L743.9 467.9L746.4 466.1L748.4 467.4Z" stroke="#111" stroke-width="1.26" fill="#fff" stroke-linejoin="round" stroke-linecap="round"/>
<path d="M750.0 471.8L747.5 473.5L745.3 472.2L747.9 470.4Z" stroke="#111" stroke-width="1.01" fill="#fff" stroke-linejoin="round" stroke-linecap="round"/>
<path d="M747.5 473.5L745.5 472.3L743.4 470.9L745.3 472.2Z" stroke="#111" stroke-width="1.01" fill="#fff" stroke-linejoin="round" stroke-linecap="round"/>
<path d="M745.5 472.3L746.0 469.2L743.9 467.9L743.4 470.9Z" stroke="#111" stroke-width="1.01" fill="#fff" stroke-linejoin="round" stroke-linecap="round"/>
<path d="M746.0 469.2L748.5 467.5L746.4 466.1L743.9 467.9Z" stroke="#111" stroke-width="1.01" fill="#fff" stroke-linejoin="round" stroke-linecap="round"/>
<path d="M748.5 467.5L750.5 468.7L748.4 467.4L746.4 466.1Z" stroke="#111" stroke-width="1.01" fill="#fff" stroke-linejoin="round" stroke-linecap="round"/>
<path d="M750.5 468.7L750.0 471.8L747.9 470.4L748.4 467.4Z" stroke="#111" stroke-width="1.01" fill="#fff" stroke-linejoin="round" stroke-linecap="round"/>
<path d="M750.0 471.8L747.5 473.5L745.5 472.3L746.0 469.2L748.5 467.5L750.5 468.7Z" stroke="#111" stroke-width="1.26" fill="#fff" stroke-linejoin="round" stroke-linecap="round"/>
<ellipse cx="705.0" cy="532.5" rx="2.5" ry="4.0" transform="rotate(32.8 705.0 532.5)" stroke="#111" stroke-width="0.69" fill="#1a1a1a"/>
<ellipse cx="705.0" cy="532.5" rx="0.7" ry="1.2" transform="rotate(32.8 705.0 532.5)" stroke="#111" stroke-width="0.00" fill="#8a8a8a"/>
<ellipse cx="711.0" cy="536.6" rx="1.9" ry="3.1" transform="rotate(32.8 711.0 536.6)" stroke="#111" stroke-width="0.69" fill="#1a1a1a"/>
<ellipse cx="711.0" cy="536.6" rx="0.6" ry="0.9" transform="rotate(32.8 711.0 536.6)" stroke="#111" stroke-width="0.00" fill="#8a8a8a"/>
<ellipse cx="722.0" cy="543.5" rx="1.2" ry="2.0" transform="rotate(32.0 722.0 543.5)" stroke="#111" stroke-width="1.26" fill="#fff"/>
<path d="M712.9 540.2L720.9 545.2L723.1 541.8L715.1 536.8Z" fill="#fff" stroke="none"/>
<path d="M712.9 540.2L720.9 545.2" stroke="#111" stroke-width="1.26" fill="none" stroke-linecap="round"/>
<path d="M715.1 536.8L723.1 541.8" stroke="#111" stroke-width="1.26" fill="none" stroke-linecap="round"/>
<ellipse cx="714.0" cy="538.5" rx="1.2" ry="2.0" transform="rotate(32.0 714.0 538.5)" stroke="#111" stroke-width="1.26" fill="#fff"/>
<path d="M721.9 543.4L719.3 545.2L717.4 543.9L717.9 540.9L720.4 539.1L722.4 540.4Z" stroke="#111" stroke-width="1.26" fill="#fff" stroke-linejoin="round" stroke-linecap="round"/>
<path d="M724.0 544.8L721.5 546.5L719.3 545.2L721.9 543.4Z" stroke="#111" stroke-width="1.01" fill="#fff" stroke-linejoin="round" stroke-linecap="round"/>
<path d="M721.5 546.5L719.5 545.3L717.4 543.9L719.3 545.2Z" stroke="#111" stroke-width="1.01" fill="#fff" stroke-linejoin="round" stroke-linecap="round"/>
<path d="M719.5 545.3L720.0 542.2L717.9 540.9L717.4 543.9Z" stroke="#111" stroke-width="1.01" fill="#fff" stroke-linejoin="round" stroke-linecap="round"/>
<path d="M720.0 542.2L722.5 540.5L720.4 539.1L717.9 540.9Z" stroke="#111" stroke-width="1.01" fill="#fff" stroke-linejoin="round" stroke-linecap="round"/>
<path d="M722.5 540.5L724.5 541.7L722.4 540.4L720.4 539.1Z" stroke="#111" stroke-width="1.01" fill="#fff" stroke-linejoin="round" stroke-linecap="round"/>
<path d="M724.5 541.7L724.0 544.8L721.9 543.4L722.4 540.4Z" stroke="#111" stroke-width="1.01" fill="#fff" stroke-linejoin="round" stroke-linecap="round"/>
<path d="M724.0 544.8L721.5 546.5L719.5 545.3L720.0 542.2L722.5 540.5L724.5 541.7Z" stroke="#111" stroke-width="1.26" fill="#fff" stroke-linejoin="round" stroke-linecap="round"/>
<ellipse cx="350.0" cy="363.0" rx="6.8" ry="9.8" transform="rotate(32.8 350.0 363.0)" stroke="#111" stroke-width="3.91" fill="#fff"/>
<ellipse cx="350.3" cy="363.3" rx="3.5" ry="5.8" transform="rotate(32.8 350.3 363.3)" stroke="#444" stroke-width="1.20" fill="#e8e8e8"/>
<ellipse cx="350.8" cy="363.6" rx="1.2" ry="3.0" transform="rotate(32.8 350.8 363.6)" stroke="#111" stroke-width="0.00" fill="#fff"/>
<path d="M355.8 367.0L355.4 377.0" stroke="#111" stroke-width="2.53" fill="none" stroke-linecap="round"/>
<path d="M352.5 354.5L357 353.5L358.5 356.5L356 358" stroke="#111" stroke-width="2.30" fill="none" stroke-linejoin="round" stroke-linecap="round" />
<path d="M359.0 369.0L372.0 378.0" stroke="#6a6a6a" stroke-width="0.90" fill="none" stroke-linecap="round" stroke-dasharray="7 3.5"/>
<path d="M371.5 381Q371 370 380 370.5L401.5 383.5L401 399L377 397.5Q371 395 371.5 381Z" stroke="#111" stroke-width="1.72" fill="#fff" stroke-linejoin="round" stroke-linecap="round" />
<path d="M373.5 381Q374 373 380 373" stroke="#111" stroke-width="1.03" fill="none" stroke-linejoin="round" stroke-linecap="round" />
<ellipse cx="385.4" cy="387.0" rx="6.7" ry="11.2" transform="rotate(32.8 385.4 387.0)" stroke="#111" stroke-width="1.38" fill="#1a1a1a"/>
<ellipse cx="383.0" cy="385.5" rx="6.7" ry="11.2" transform="rotate(32.8 383.0 385.5)" stroke="#111" stroke-width="1.38" fill="#fff"/>
<ellipse cx="383.0" cy="385.5" rx="1.5" ry="2.5" transform="rotate(32.8 383.0 385.5)" stroke="#111" stroke-width="1.79" fill="#fff"/>
<path d="M390.0 392.0L398.0 397.0" stroke="#333" stroke-width="0.90" fill="none" stroke-linecap="round"/>
<ellipse cx="408.8" cy="395.5" rx="7.6" ry="12.6" transform="rotate(32.8 408.8 395.5)" stroke="#111" stroke-width="2.07" fill="#fff"/>
<ellipse cx="409.3" cy="395.7" rx="6.4" ry="10.8" transform="rotate(32.8 409.3 395.7)" stroke="#111" stroke-width="1.15" fill="none"/>
<ellipse cx="410.0" cy="396.0" rx="4.8" ry="8.2" transform="rotate(32.8 410.0 396.0)" stroke="#111" stroke-width="1.38" fill="#f0f0f0"/>
<ellipse cx="410.3" cy="396.2" rx="2.6" ry="4.3" transform="rotate(32.8 410.3 396.2)" stroke="#111" stroke-width="1.15" fill="#ddd"/>
<ellipse cx="410.5" cy="396.3" rx="0.9" ry="1.4" transform="rotate(32.8 410.5 396.3)" stroke="#111" stroke-width="0.00" fill="#111"/>
<path d="M42.5 26.3H63.8M42.5 26.3L36.2 45.0M84.4 37.1H95.9M84.4 37.1L58.1 56.2M147.5 59.5H159.0M147.5 59.5L107.5 75.0M207.5 114.4H229.0M207.5 114.4L183.8 125.6M0.0 138.8H21.2M21.2 138.8L33.5 117.5M20.0 166.9H41.2M41.2 166.9L55.0 132.5M29.0 204.5H42.5M42.5 204.5L75.0 161.0M333.8 166.2H355.0M333.8 166.2L316.2 191.9M355.6 181.9H376.9M355.6 181.9L334.4 203.8M119.0 218.0H140.0M140.0 218.0L160.0 200.0M136.0 238.8H157.5M157.5 238.8L172.5 206.0M170.0 247.0H191.0M191.0 247.0L199.0 215.0M196.0 258.5H217.0M217.0 258.5L222.0 232.0M73.0 266.0H95.0M95.0 266.0L105.0 241.0M86.0 288.0H109.0M109.0 288.0L125.0 257.5M105.0 308.0H127.5M127.5 308.0L141.0 272.5M436.2 247.2H448.1M436.2 247.2L385.0 278.1M496.2 288.2H517.7M496.2 288.2L462.5 304.7M537.5 308.3H549.5M537.5 308.3L505.2 327.5M555.0 337.0H567.0M555.0 337.0L528.0 364.0M574.4 346.4H596.0M574.4 346.4L543.0 373.0M637.2 358.5H658.8M637.2 358.5L613.0 376.9M710.6 416.5H721.9M710.6 416.5L683.0 442.0M759.4 436.5H780.0M759.4 436.5L735.0 460.0M771.9 455.0H792.5M771.9 455.0L747.0 469.0M673.8 551.0H694.4M694.4 551.0L703.8 535.0M674.0 572.0H695.0M695.0 572.0L711.0 538.0M683.2 591.8H704.5M704.5 591.8L716.5 543.5M335.0 331.9H356.2M356.2 331.9L366.2 325.6M387.5 320.0H410.0M387.5 320.0L382.5 324.4M358.8 358.5H390.6M370.0 358.7L356.0 361.0M410.0 373.8H423.8M410.0 373.8L397.5 387.5M252.0 383.4H274.0M274.0 383.4L283.6 366.0M284.3 388.6H305.6M305.6 388.6L309.0 370.8M305.6 403.0H326.3M326.3 403.0L332.5 388.0M443.8 403.1H465.0M443.8 403.1L433.1 411.2M464.4 416.2H485.0M464.4 416.2L451.9 426.2M241.0 416.5H262.5M262.5 416.5L285.0 406.9M266.0 430.2H289.0M289.0 430.2L302.0 413.4M347.9 409.6H369.8M347.9 409.6L348.7 443.4M370.6 416.6H391.8M370.6 416.6L356.0 445.0M387.7 430.4H409.6M387.7 430.4L367.4 453.0M409.6 441.8H433.2M409.6 441.8L377.0 458.0M427.0 461.0H448.0M427.0 461.0L415.0 478.0M444.5 477.2H465.0M444.5 477.2L434.0 494.0M195.6 441.2H216.9M216.9 441.2L233.0 433.0M195.6 469.1H216.9M216.9 469.1L248.8 442.5M246.9 485.0H268.8M268.8 485.0L295.0 475.0M246.9 508.1H268.0M268.0 508.1L301.0 478.0M284.4 508.1H305.6M305.6 508.1L312.5 485.6M293.0 526.9H314.4M314.4 526.9L322.5 490.0M315.4 551.7H336.6M336.6 551.7L360.0 516.2M350.4 578.3H361.8M361.8 578.3L366.6 531.7M401.6 571.8H422.2M401.6 571.8L394.2 536.6" fill="none" stroke="#707070" stroke-width="1.05"/>
<text transform="matrix(0.944 0 0 1 44.25 22.57)">20</text><text transform="matrix(0.944 0 0 1 85.80 32.82)">9</text><text transform="matrix(0.944 0 0 1 149.46 55.75)">4</text><text transform="matrix(0.944 0 0 1 209.50 110.67)">26</text><path transform="matrix(0.00830 0 0 -0.00879 0.96 135.00)" d="M545 0L545 1237L197 1000L197 1170L560 1409L726 1409L726 0Z" fill="#141414"/><text transform="matrix(0.944 0 0 1 10.41 135.00)">4</text><text transform="matrix(0.944 0 0 1 20.10 163.35)">24</text><text transform="matrix(0.944 0 0 1 29.49 201.32)">6</text><path transform="matrix(0.00830 0 0 -0.00879 335.96 162.82)" d="M545 0L545 1237L197 1000L197 1170L560 1409L726 1409L726 0Z" fill="#141414"/><text transform="matrix(0.944 0 0 1 345.41 162.82)">6</text><text transform="matrix(0.944 0 0 1 357.50 177.75)">22</text><text transform="matrix(0.944 0 0 1 119.50 214.25)">24</text><path transform="matrix(0.00830 0 0 -0.00879 136.56 235.07)" d="M545 0L545 1237L197 1000L197 1170L560 1409L726 1409L726 0Z" fill="#141414"/><text transform="matrix(0.944 0 0 1 146.01 235.07)">9</text><path transform="matrix(0.00830 0 0 -0.00879 170.06 244.25)" d="M545 0L545 1237L197 1000L197 1170L560 1409L726 1409L726 0Z" fill="#141414"/><text transform="matrix(0.944 0 0 1 179.51 244.25)">4</text><text transform="matrix(0.944 0 0 1 196.30 255.25)">24</text><path transform="matrix(0.00830 0 0 -0.00879 74.06 262.57)" d="M545 0L545 1237L197 1000L197 1170L560 1409L726 1409L726 0Z" fill="#141414"/><text transform="matrix(0.944 0 0 1 83.51 262.57)">5</text><text transform="matrix(0.944 0 0 1 85.50 284.07)">25</text><path transform="matrix(0.00830 0 0 -0.00879 106.56 304.25)" d="M545 0L545 1237L197 1000L197 1170L560 1409L726 1409L726 0Z" fill="#141414"/><path transform="matrix(0.00830 0 0 -0.00879 116.01 304.25)" d="M545 0L545 1237L197 1000L197 1170L560 1409L726 1409L726 0Z" fill="#141414"/><path transform="matrix(0.00830 0 0 -0.00879 438.46 243.65)" d="M545 0L545 1237L197 1000L197 1170L560 1409L726 1409L726 0Z" fill="#141414"/><text transform="matrix(0.944 0 0 1 498.00 284.07)">26</text><text transform="matrix(0.944 0 0 1 540.17 304.32)">5</text><text transform="matrix(0.944 0 0 1 557.55 332.67)">9</text><text transform="matrix(0.944 0 0 1 576.50 343.07)">20</text><path transform="matrix(0.00830 0 0 -0.00879 639.66 354.47)" d="M545 0L545 1237L197 1000L197 1170L560 1409L726 1409L726 0Z" fill="#141414"/><text transform="matrix(0.944 0 0 1 649.11 354.47)">0</text><text transform="matrix(0.944 0 0 1 712.60 412.57)">3</text><text transform="matrix(0.944 0 0 1 760.75 432.15)">22</text><path transform="matrix(0.00830 0 0 -0.00879 774.06 451.25)" d="M545 0L545 1237L197 1000L197 1170L560 1409L726 1409L726 0Z" fill="#141414"/><text transform="matrix(0.944 0 0 1 783.51 451.25)">2</text><text transform="matrix(0.944 0 0 1 673.90 547.15)">22</text><text transform="matrix(0.944 0 0 1 674.30 568.05)">2</text><path transform="matrix(0.00830 0 0 -0.00879 683.75 568.05)" d="M545 0L545 1237L197 1000L197 1170L560 1409L726 1409L726 0Z" fill="#141414"/><path transform="matrix(0.00830 0 0 -0.00879 683.86 588.05)" d="M545 0L545 1237L197 1000L197 1170L560 1409L726 1409L726 0Z" fill="#141414"/><text transform="matrix(0.944 0 0 1 693.31 588.05)">2</text><text transform="matrix(0.944 0 0 1 335.50 328.00)">24</text><path transform="matrix(0.00830 0 0 -0.00879 390.96 315.67)" d="M545 0L545 1237L197 1000L197 1170L560 1409L726 1409L726 0Z" fill="#141414"/><text transform="matrix(0.944 0 0 1 400.41 315.67)">9</text><text transform="matrix(0.944 0 0 1 381.98 354.00)">7</text><text transform="matrix(0.944 0 0 1 414.50 370.25)">2</text><path transform="matrix(0.00830 0 0 -0.00879 253.81 379.95)" d="M545 0L545 1237L197 1000L197 1170L560 1409L726 1409L726 0Z" fill="#141414"/><path transform="matrix(0.00830 0 0 -0.00879 263.26 379.95)" d="M545 0L545 1237L197 1000L197 1170L560 1409L726 1409L726 0Z" fill="#141414"/><text transform="matrix(0.944 0 0 1 285.50 384.57)">25</text><path transform="matrix(0.00830 0 0 -0.00879 306.76 399.07)" d="M545 0L545 1237L197 1000L197 1170L560 1409L726 1409L726 0Z" fill="#141414"/><text transform="matrix(0.944 0 0 1 316.21 399.07)">5</text><text transform="matrix(0.944 0 0 1 445.75 399.00)">24</text><path transform="matrix(0.00830 0 0 -0.00879 465.96 412.75)" d="M545 0L545 1237L197 1000L197 1170L560 1409L726 1409L726 0Z" fill="#141414"/><text transform="matrix(0.944 0 0 1 475.41 412.75)">4</text><path transform="matrix(0.00830 0 0 -0.00879 241.56 412.82)" d="M545 0L545 1237L197 1000L197 1170L560 1409L726 1409L726 0Z" fill="#141414"/><text transform="matrix(0.944 0 0 1 251.01 412.82)">3</text><text transform="matrix(0.944 0 0 1 266.40 426.32)">23</text><text transform="matrix(0.944 0 0 1 350.60 405.27)">23</text><path transform="matrix(0.00830 0 0 -0.00879 374.56 411.77)" d="M545 0L545 1237L197 1000L197 1170L560 1409L726 1409L726 0Z" fill="#141414"/><text transform="matrix(0.944 0 0 1 384.01 411.77)">8</text><path transform="matrix(0.00830 0 0 -0.00879 392.46 425.87)" d="M545 0L545 1237L197 1000L197 1170L560 1409L726 1409L726 0Z" fill="#141414"/><text transform="matrix(0.944 0 0 1 401.91 425.87)">8</text><text transform="matrix(0.944 0 0 1 414.00 437.77)">23</text><text transform="matrix(0.944 0 0 1 429.00 456.57)">23</text><path transform="matrix(0.00830 0 0 -0.00879 446.86 472.57)" d="M545 0L545 1237L197 1000L197 1170L560 1409L726 1409L726 0Z" fill="#141414"/><text transform="matrix(0.944 0 0 1 456.31 472.57)">3</text><path transform="matrix(0.00830 0 0 -0.00879 196.31 437.57)" d="M545 0L545 1237L197 1000L197 1170L560 1409L726 1409L726 0Z" fill="#141414"/><text transform="matrix(0.944 0 0 1 205.76 437.57)">3</text><text transform="matrix(0.944 0 0 1 195.75 465.07)">23</text><text transform="matrix(0.944 0 0 1 247.25 480.67)">23</text><path transform="matrix(0.00830 0 0 -0.00879 247.56 503.82)" d="M545 0L545 1237L197 1000L197 1170L560 1409L726 1409L726 0Z" fill="#141414"/><text transform="matrix(0.944 0 0 1 257.01 503.82)">8</text><path transform="matrix(0.00830 0 0 -0.00879 285.31 503.35)" d="M545 0L545 1237L197 1000L197 1170L560 1409L726 1409L726 0Z" fill="#141414"/><text transform="matrix(0.944 0 0 1 294.76 503.35)">7</text><text transform="matrix(0.944 0 0 1 293.25 523.17)">23</text><text transform="matrix(0.944 0 0 1 315.75 547.17)">23</text><text transform="matrix(0.944 0 0 1 350.81 574.07)">8</text><path transform="matrix(0.00830 0 0 -0.00879 403.06 568.07)" d="M545 0L545 1237L197 1000L197 1170L560 1409L726 1409L726 0Z" fill="#141414"/><text transform="matrix(0.944 0 0 1 412.51 568.07)">3</text>
</svg>
</body></html>
